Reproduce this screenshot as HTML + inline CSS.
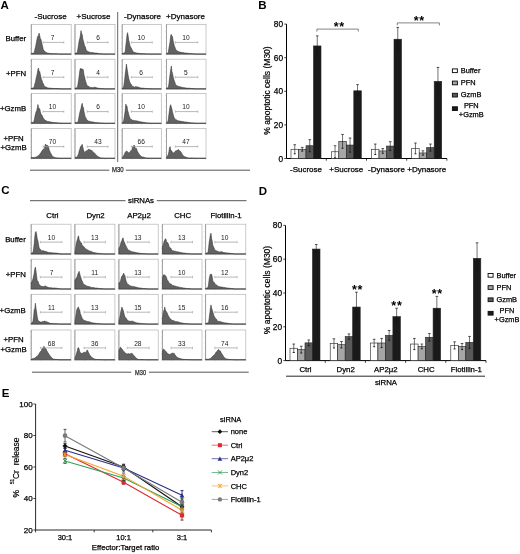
<!DOCTYPE html>
<html><head><meta charset="utf-8"><style>html,body{margin:0;padding:0;background:#fff;width:520px;height:554px;overflow:hidden;font-family:"Liberation Sans", sans-serif;}svg{display:block;filter:blur(0.35px)}</style></head><body>
<svg width="520" height="554" viewBox="0 0 520 554" font-family='"Liberation Sans", sans-serif'>
<rect width="520" height="554" fill="#fff"/>
<text x="0.50" y="9.00" font-size="11.5" text-anchor="start" font-weight="bold" fill="#000" >A</text>
<text x="50.60" y="18.80" font-size="8" text-anchor="middle" font-weight="normal" fill="#000" stroke="#000" stroke-width="0.25" >-Sucrose</text>
<text x="93.50" y="18.80" font-size="8" text-anchor="middle" font-weight="normal" fill="#000" stroke="#000" stroke-width="0.25" >+Sucrose</text>
<text x="142.50" y="18.80" font-size="8" text-anchor="middle" font-weight="normal" fill="#000" stroke="#000" stroke-width="0.25" >-Dynasore</text>
<text x="185.50" y="18.80" font-size="8" text-anchor="middle" font-weight="normal" fill="#000" stroke="#000" stroke-width="0.25" >+Dynasore</text>
<text x="26.20" y="40.90" font-size="7.8" text-anchor="end" font-weight="normal" fill="#000" stroke="#000" stroke-width="0.25" >Buffer</text>
<text x="26.20" y="76.30" font-size="7.8" text-anchor="end" font-weight="normal" fill="#000" stroke="#000" stroke-width="0.25" >+PFN</text>
<text x="26.20" y="111.10" font-size="7.8" text-anchor="end" font-weight="normal" fill="#000" stroke="#000" stroke-width="0.25" >+GzmB</text>
<text x="13.60" y="140.60" font-size="7.8" text-anchor="middle" font-weight="normal" fill="#000" stroke="#000" stroke-width="0.25" >+PFN</text>
<text x="13.60" y="149.70" font-size="7.8" text-anchor="middle" font-weight="normal" fill="#000" stroke="#000" stroke-width="0.25" >+GzmB</text>
<rect x="31.30" y="24.40" width="39.90" height="29.70" fill="#fff" stroke="#b4b4b4" stroke-width="0.7" />
<line x1="31.30" y1="24.40" x2="31.30" y2="54.10" stroke="#8a8a8a" stroke-width="0.7" />
<line x1="31.30" y1="54.10" x2="71.20" y2="54.10" stroke="#8a8a8a" stroke-width="0.7" />
<line x1="30.00" y1="54.10" x2="31.30" y2="54.10" stroke="#bbb" stroke-width="0.5" />
<line x1="30.00" y1="48.50" x2="31.30" y2="48.50" stroke="#bbb" stroke-width="0.5" />
<line x1="30.00" y1="42.89" x2="31.30" y2="42.89" stroke="#bbb" stroke-width="0.5" />
<line x1="30.00" y1="37.29" x2="31.30" y2="37.29" stroke="#bbb" stroke-width="0.5" />
<line x1="30.00" y1="31.68" x2="31.30" y2="31.68" stroke="#bbb" stroke-width="0.5" />
<line x1="30.00" y1="26.08" x2="31.30" y2="26.08" stroke="#bbb" stroke-width="0.5" />
<line x1="31.30" y1="54.10" x2="31.30" y2="55.40" stroke="#bbb" stroke-width="0.5" />
<line x1="41.27" y1="54.10" x2="41.27" y2="55.40" stroke="#bbb" stroke-width="0.5" />
<line x1="51.25" y1="54.10" x2="51.25" y2="55.40" stroke="#bbb" stroke-width="0.5" />
<line x1="61.22" y1="54.10" x2="61.22" y2="55.40" stroke="#bbb" stroke-width="0.5" />
<line x1="71.20" y1="54.10" x2="71.20" y2="55.40" stroke="#bbb" stroke-width="0.5" />
<path d="M31.3,54.1L31.3,53.5L31.9,53.4L32.5,53.3L33.1,53.2L33.7,53.0L34.3,52.5L34.9,49.3L35.5,46.9L36.1,43.9L36.7,41.0L37.3,37.5L37.9,36.0L38.5,35.4L39.1,33.1L39.7,35.5L40.3,38.4L40.9,39.2L41.5,41.6L42.1,44.4L42.7,46.8L43.3,49.8L43.9,50.3L44.5,51.1L45.1,51.8L45.7,52.2L46.3,52.5L46.9,52.7L47.5,53.0L48.1,53.1L48.7,53.3L49.3,53.5L49.9,53.5L50.5,53.6L51.1,53.6L51.7,53.6L52.3,53.7L52.9,53.7L53.5,53.7L54.1,53.7L54.7,53.7L55.3,53.8L55.9,53.8L56.5,53.8L57.1,53.9L57.7,53.9L58.3,53.9L58.9,54.0L59.5,54.0L60.1,54.0L60.7,54.1L61.3,54.1L61.9,54.1L62.5,54.1L63.1,54.1L63.7,54.1L64.3,54.1L64.9,54.1L65.5,54.1L66.1,54.1L66.7,54.1L67.3,54.1L67.9,54.1L68.5,54.1L69.1,54.1L69.7,54.1L70.3,54.1L70.9,54.1L71.2,54.1Z" fill="#626262" stroke="#2a2a2a" stroke-width="0.5" stroke-linejoin="round"/>
<line x1="43.10" y1="42.40" x2="63.80" y2="42.40" stroke="#a0a0a0" stroke-width="0.75" />
<line x1="43.10" y1="41.20" x2="43.10" y2="43.60" stroke="#a0a0a0" stroke-width="0.6" />
<line x1="63.80" y1="41.20" x2="63.80" y2="43.60" stroke="#a0a0a0" stroke-width="0.6" />
<text x="52.50" y="40.00" font-size="6.6" text-anchor="middle" font-weight="normal " fill="#1a1a1a" >7</text>
<rect x="75.00" y="24.40" width="40.00" height="29.70" fill="#fff" stroke="#b4b4b4" stroke-width="0.7" />
<line x1="75.00" y1="24.40" x2="75.00" y2="54.10" stroke="#8a8a8a" stroke-width="0.7" />
<line x1="75.00" y1="54.10" x2="115.00" y2="54.10" stroke="#8a8a8a" stroke-width="0.7" />
<line x1="73.70" y1="54.10" x2="75.00" y2="54.10" stroke="#bbb" stroke-width="0.5" />
<line x1="73.70" y1="48.50" x2="75.00" y2="48.50" stroke="#bbb" stroke-width="0.5" />
<line x1="73.70" y1="42.89" x2="75.00" y2="42.89" stroke="#bbb" stroke-width="0.5" />
<line x1="73.70" y1="37.29" x2="75.00" y2="37.29" stroke="#bbb" stroke-width="0.5" />
<line x1="73.70" y1="31.68" x2="75.00" y2="31.68" stroke="#bbb" stroke-width="0.5" />
<line x1="73.70" y1="26.08" x2="75.00" y2="26.08" stroke="#bbb" stroke-width="0.5" />
<line x1="75.00" y1="54.10" x2="75.00" y2="55.40" stroke="#bbb" stroke-width="0.5" />
<line x1="85.00" y1="54.10" x2="85.00" y2="55.40" stroke="#bbb" stroke-width="0.5" />
<line x1="95.00" y1="54.10" x2="95.00" y2="55.40" stroke="#bbb" stroke-width="0.5" />
<line x1="105.00" y1="54.10" x2="105.00" y2="55.40" stroke="#bbb" stroke-width="0.5" />
<line x1="115.00" y1="54.10" x2="115.00" y2="55.40" stroke="#bbb" stroke-width="0.5" />
<path d="M75.0,54.1L75.0,53.5L75.6,53.3L76.2,53.1L76.8,53.1L77.4,51.7L78.0,48.2L78.6,44.4L79.2,40.4L79.8,38.5L80.4,35.4L81.0,30.6L81.6,33.4L82.2,34.5L82.8,39.1L83.4,40.9L84.0,43.3L84.6,45.8L85.2,46.6L85.8,48.5L86.4,50.8L87.0,51.1L87.6,51.2L88.2,51.4L88.8,51.9L89.4,52.2L90.0,52.2L90.6,52.4L91.2,52.4L91.8,52.5L92.4,52.5L93.0,52.7L93.6,52.8L94.2,52.9L94.8,52.9L95.4,53.0L96.0,53.1L96.6,53.1L97.2,53.2L97.8,53.3L98.4,53.5L99.0,53.5L99.6,53.6L100.2,53.7L100.8,53.8L101.4,53.8L102.0,53.9L102.6,53.9L103.2,54.0L103.8,54.0L104.4,54.1L105.0,54.1L105.6,54.1L106.2,54.1L106.8,54.1L107.4,54.1L108.0,54.1L108.6,54.1L109.2,54.1L109.8,54.1L110.4,54.1L111.0,54.1L111.6,54.1L112.2,54.1L112.8,54.1L113.4,54.1L114.0,54.1L114.6,54.1L115.0,54.1Z" fill="#626262" stroke="#2a2a2a" stroke-width="0.5" stroke-linejoin="round"/>
<line x1="87.20" y1="42.40" x2="108.00" y2="42.40" stroke="#a0a0a0" stroke-width="0.75" />
<line x1="87.20" y1="41.20" x2="87.20" y2="43.60" stroke="#a0a0a0" stroke-width="0.6" />
<line x1="108.00" y1="41.20" x2="108.00" y2="43.60" stroke="#a0a0a0" stroke-width="0.6" />
<text x="98.00" y="40.00" font-size="6.6" text-anchor="middle" font-weight="normal " fill="#1a1a1a" >6</text>
<rect x="122.20" y="24.40" width="39.10" height="29.70" fill="#fff" stroke="#b4b4b4" stroke-width="0.7" />
<line x1="122.20" y1="24.40" x2="122.20" y2="54.10" stroke="#8a8a8a" stroke-width="0.7" />
<line x1="122.20" y1="54.10" x2="161.30" y2="54.10" stroke="#8a8a8a" stroke-width="0.7" />
<line x1="120.90" y1="54.10" x2="122.20" y2="54.10" stroke="#bbb" stroke-width="0.5" />
<line x1="120.90" y1="48.50" x2="122.20" y2="48.50" stroke="#bbb" stroke-width="0.5" />
<line x1="120.90" y1="42.89" x2="122.20" y2="42.89" stroke="#bbb" stroke-width="0.5" />
<line x1="120.90" y1="37.29" x2="122.20" y2="37.29" stroke="#bbb" stroke-width="0.5" />
<line x1="120.90" y1="31.68" x2="122.20" y2="31.68" stroke="#bbb" stroke-width="0.5" />
<line x1="120.90" y1="26.08" x2="122.20" y2="26.08" stroke="#bbb" stroke-width="0.5" />
<line x1="122.20" y1="54.10" x2="122.20" y2="55.40" stroke="#bbb" stroke-width="0.5" />
<line x1="131.97" y1="54.10" x2="131.97" y2="55.40" stroke="#bbb" stroke-width="0.5" />
<line x1="141.75" y1="54.10" x2="141.75" y2="55.40" stroke="#bbb" stroke-width="0.5" />
<line x1="151.53" y1="54.10" x2="151.53" y2="55.40" stroke="#bbb" stroke-width="0.5" />
<line x1="161.30" y1="54.10" x2="161.30" y2="55.40" stroke="#bbb" stroke-width="0.5" />
<path d="M122.2,54.1L122.2,53.5L122.8,53.3L123.4,53.2L124.0,53.0L124.6,52.7L125.2,51.6L125.8,45.8L126.4,40.9L127.0,35.0L127.6,32.6L128.2,36.2L128.8,40.5L129.4,42.8L130.0,45.8L130.6,47.1L131.2,47.9L131.8,49.0L132.4,50.4L133.0,51.4L133.6,52.0L134.2,52.3L134.8,52.5L135.4,52.6L136.0,52.9L136.6,53.0L137.2,53.0L137.8,53.2L138.4,53.3L139.0,53.5L139.6,53.6L140.2,53.6L140.8,53.6L141.4,53.6L142.0,53.7L142.6,53.7L143.2,53.7L143.8,53.8L144.4,53.8L145.0,53.8L145.6,53.9L146.2,53.9L146.8,53.9L147.4,53.9L148.0,53.9L148.6,54.0L149.2,54.0L149.8,54.0L150.4,54.0L151.0,54.1L151.6,54.1L152.2,54.1L152.8,54.1L153.4,54.1L154.0,54.1L154.6,54.1L155.2,54.1L155.8,54.1L156.4,54.1L157.0,54.1L157.6,54.1L158.2,54.1L158.8,54.1L159.4,54.1L160.0,54.1L160.6,54.1L161.2,54.1L161.3,54.1Z" fill="#626262" stroke="#2a2a2a" stroke-width="0.5" stroke-linejoin="round"/>
<line x1="131.40" y1="42.40" x2="152.30" y2="42.40" stroke="#a0a0a0" stroke-width="0.75" />
<line x1="131.40" y1="41.20" x2="131.40" y2="43.60" stroke="#a0a0a0" stroke-width="0.6" />
<line x1="152.30" y1="41.20" x2="152.30" y2="43.60" stroke="#a0a0a0" stroke-width="0.6" />
<text x="141.20" y="40.00" font-size="6.6" text-anchor="middle" font-weight="normal " fill="#1a1a1a" >10</text>
<rect x="166.50" y="24.40" width="39.50" height="29.70" fill="#fff" stroke="#b4b4b4" stroke-width="0.7" />
<line x1="166.50" y1="24.40" x2="166.50" y2="54.10" stroke="#8a8a8a" stroke-width="0.7" />
<line x1="166.50" y1="54.10" x2="206.00" y2="54.10" stroke="#8a8a8a" stroke-width="0.7" />
<line x1="165.20" y1="54.10" x2="166.50" y2="54.10" stroke="#bbb" stroke-width="0.5" />
<line x1="165.20" y1="48.50" x2="166.50" y2="48.50" stroke="#bbb" stroke-width="0.5" />
<line x1="165.20" y1="42.89" x2="166.50" y2="42.89" stroke="#bbb" stroke-width="0.5" />
<line x1="165.20" y1="37.29" x2="166.50" y2="37.29" stroke="#bbb" stroke-width="0.5" />
<line x1="165.20" y1="31.68" x2="166.50" y2="31.68" stroke="#bbb" stroke-width="0.5" />
<line x1="165.20" y1="26.08" x2="166.50" y2="26.08" stroke="#bbb" stroke-width="0.5" />
<line x1="166.50" y1="54.10" x2="166.50" y2="55.40" stroke="#bbb" stroke-width="0.5" />
<line x1="176.38" y1="54.10" x2="176.38" y2="55.40" stroke="#bbb" stroke-width="0.5" />
<line x1="186.25" y1="54.10" x2="186.25" y2="55.40" stroke="#bbb" stroke-width="0.5" />
<line x1="196.12" y1="54.10" x2="196.12" y2="55.40" stroke="#bbb" stroke-width="0.5" />
<line x1="206.00" y1="54.10" x2="206.00" y2="55.40" stroke="#bbb" stroke-width="0.5" />
<path d="M166.5,54.1L166.5,53.5L167.1,53.2L167.7,52.9L168.3,52.6L168.9,48.3L169.5,45.0L170.1,41.4L170.7,35.5L171.3,34.4L171.9,36.5L172.5,36.5L173.1,40.8L173.7,43.1L174.3,45.9L174.9,47.1L175.5,49.0L176.1,50.0L176.7,50.5L177.3,51.0L177.9,51.2L178.5,51.5L179.1,52.0L179.7,52.0L180.3,52.1L180.9,52.3L181.5,52.5L182.1,52.4L182.7,52.6L183.3,52.6L183.9,52.7L184.5,52.9L185.1,52.9L185.7,53.1L186.3,53.1L186.9,53.2L187.5,53.2L188.1,53.2L188.7,53.4L189.3,53.5L189.9,53.5L190.5,53.5L191.1,53.6L191.7,53.7L192.3,53.7L192.9,53.8L193.5,53.8L194.1,53.9L194.7,53.9L195.3,54.0L195.9,54.0L196.5,54.1L197.1,54.1L197.7,54.1L198.3,54.1L198.9,54.1L199.5,54.1L200.1,54.1L200.7,54.1L201.3,54.1L201.9,54.1L202.5,54.1L203.1,54.1L203.7,54.1L204.3,54.1L204.9,54.1L205.5,54.1L206.0,54.1Z" fill="#626262" stroke="#2a2a2a" stroke-width="0.5" stroke-linejoin="round"/>
<line x1="175.40" y1="42.40" x2="197.80" y2="42.40" stroke="#a0a0a0" stroke-width="0.75" />
<line x1="175.40" y1="41.20" x2="175.40" y2="43.60" stroke="#a0a0a0" stroke-width="0.6" />
<line x1="197.80" y1="41.20" x2="197.80" y2="43.60" stroke="#a0a0a0" stroke-width="0.6" />
<text x="185.90" y="40.00" font-size="6.6" text-anchor="middle" font-weight="normal " fill="#1a1a1a" >10</text>
<rect x="31.30" y="59.20" width="39.90" height="29.70" fill="#fff" stroke="#b4b4b4" stroke-width="0.7" />
<line x1="31.30" y1="59.20" x2="31.30" y2="88.90" stroke="#8a8a8a" stroke-width="0.7" />
<line x1="31.30" y1="88.90" x2="71.20" y2="88.90" stroke="#8a8a8a" stroke-width="0.7" />
<line x1="30.00" y1="88.90" x2="31.30" y2="88.90" stroke="#bbb" stroke-width="0.5" />
<line x1="30.00" y1="83.30" x2="31.30" y2="83.30" stroke="#bbb" stroke-width="0.5" />
<line x1="30.00" y1="77.69" x2="31.30" y2="77.69" stroke="#bbb" stroke-width="0.5" />
<line x1="30.00" y1="72.09" x2="31.30" y2="72.09" stroke="#bbb" stroke-width="0.5" />
<line x1="30.00" y1="66.48" x2="31.30" y2="66.48" stroke="#bbb" stroke-width="0.5" />
<line x1="30.00" y1="60.88" x2="31.30" y2="60.88" stroke="#bbb" stroke-width="0.5" />
<line x1="31.30" y1="88.90" x2="31.30" y2="90.20" stroke="#bbb" stroke-width="0.5" />
<line x1="41.27" y1="88.90" x2="41.27" y2="90.20" stroke="#bbb" stroke-width="0.5" />
<line x1="51.25" y1="88.90" x2="51.25" y2="90.20" stroke="#bbb" stroke-width="0.5" />
<line x1="61.22" y1="88.90" x2="61.22" y2="90.20" stroke="#bbb" stroke-width="0.5" />
<line x1="71.20" y1="88.90" x2="71.20" y2="90.20" stroke="#bbb" stroke-width="0.5" />
<path d="M31.3,88.9L31.3,88.3L31.9,88.2L32.5,88.0L33.1,88.0L33.7,87.7L34.3,86.3L34.9,83.7L35.5,81.7L36.1,78.5L36.7,75.9L37.3,73.2L37.9,69.5L38.5,68.0L39.1,72.2L39.7,71.4L40.3,74.3L40.9,77.1L41.5,79.4L42.1,80.7L42.7,82.7L43.3,83.8L43.9,85.0L44.5,86.5L45.1,86.7L45.7,86.9L46.3,87.1L46.9,87.5L47.5,87.8L48.1,87.9L48.7,88.0L49.3,87.9L49.9,88.1L50.5,88.2L51.1,88.2L51.7,88.3L52.3,88.4L52.9,88.4L53.5,88.4L54.1,88.4L54.7,88.5L55.3,88.5L55.9,88.5L56.5,88.6L57.1,88.6L57.7,88.6L58.3,88.7L58.9,88.7L59.5,88.8L60.1,88.8L60.7,88.9L61.3,88.9L61.9,88.9L62.5,88.9L63.1,88.9L63.7,88.9L64.3,88.9L64.9,88.9L65.5,88.9L66.1,88.9L66.7,88.9L67.3,88.9L67.9,88.9L68.5,88.9L69.1,88.9L69.7,88.9L70.3,88.9L70.9,88.9L71.2,88.9Z" fill="#626262" stroke="#2a2a2a" stroke-width="0.5" stroke-linejoin="round"/>
<line x1="43.10" y1="77.20" x2="63.80" y2="77.20" stroke="#a0a0a0" stroke-width="0.75" />
<line x1="43.10" y1="76.00" x2="43.10" y2="78.40" stroke="#a0a0a0" stroke-width="0.6" />
<line x1="63.80" y1="76.00" x2="63.80" y2="78.40" stroke="#a0a0a0" stroke-width="0.6" />
<text x="52.50" y="74.80" font-size="6.6" text-anchor="middle" font-weight="normal " fill="#1a1a1a" >7</text>
<rect x="75.00" y="59.20" width="40.00" height="29.70" fill="#fff" stroke="#b4b4b4" stroke-width="0.7" />
<line x1="75.00" y1="59.20" x2="75.00" y2="88.90" stroke="#8a8a8a" stroke-width="0.7" />
<line x1="75.00" y1="88.90" x2="115.00" y2="88.90" stroke="#8a8a8a" stroke-width="0.7" />
<line x1="73.70" y1="88.90" x2="75.00" y2="88.90" stroke="#bbb" stroke-width="0.5" />
<line x1="73.70" y1="83.30" x2="75.00" y2="83.30" stroke="#bbb" stroke-width="0.5" />
<line x1="73.70" y1="77.69" x2="75.00" y2="77.69" stroke="#bbb" stroke-width="0.5" />
<line x1="73.70" y1="72.09" x2="75.00" y2="72.09" stroke="#bbb" stroke-width="0.5" />
<line x1="73.70" y1="66.48" x2="75.00" y2="66.48" stroke="#bbb" stroke-width="0.5" />
<line x1="73.70" y1="60.88" x2="75.00" y2="60.88" stroke="#bbb" stroke-width="0.5" />
<line x1="75.00" y1="88.90" x2="75.00" y2="90.20" stroke="#bbb" stroke-width="0.5" />
<line x1="85.00" y1="88.90" x2="85.00" y2="90.20" stroke="#bbb" stroke-width="0.5" />
<line x1="95.00" y1="88.90" x2="95.00" y2="90.20" stroke="#bbb" stroke-width="0.5" />
<line x1="105.00" y1="88.90" x2="105.00" y2="90.20" stroke="#bbb" stroke-width="0.5" />
<line x1="115.00" y1="88.90" x2="115.00" y2="90.20" stroke="#bbb" stroke-width="0.5" />
<path d="M75.0,88.9L75.0,88.3L75.6,88.1L76.2,87.8L76.8,87.7L77.4,87.4L78.0,83.9L78.6,80.3L79.2,75.5L79.8,70.7L80.4,68.3L81.0,69.9L81.6,68.6L82.2,70.0L82.8,68.9L83.4,70.3L84.0,75.1L84.6,76.7L85.2,79.9L85.8,82.0L86.4,83.6L87.0,85.5L87.6,85.9L88.2,86.0L88.8,86.6L89.4,86.9L90.0,87.2L90.6,87.4L91.2,87.4L91.8,87.5L92.4,87.5L93.0,87.7L93.6,87.5L94.2,87.4L94.8,87.1L95.4,87.3L96.0,87.6L96.6,87.7L97.2,88.0L97.8,88.1L98.4,88.2L99.0,88.3L99.6,88.4L100.2,88.5L100.8,88.6L101.4,88.6L102.0,88.7L102.6,88.7L103.2,88.8L103.8,88.8L104.4,88.9L105.0,88.9L105.6,88.9L106.2,88.9L106.8,88.9L107.4,88.9L108.0,88.9L108.6,88.9L109.2,88.9L109.8,88.9L110.4,88.9L111.0,88.9L111.6,88.9L112.2,88.9L112.8,88.9L113.4,88.9L114.0,88.9L114.6,88.9L115.0,88.9Z" fill="#626262" stroke="#2a2a2a" stroke-width="0.5" stroke-linejoin="round"/>
<line x1="87.20" y1="77.20" x2="108.00" y2="77.20" stroke="#a0a0a0" stroke-width="0.75" />
<line x1="87.20" y1="76.00" x2="87.20" y2="78.40" stroke="#a0a0a0" stroke-width="0.6" />
<line x1="108.00" y1="76.00" x2="108.00" y2="78.40" stroke="#a0a0a0" stroke-width="0.6" />
<text x="98.00" y="74.80" font-size="6.6" text-anchor="middle" font-weight="normal " fill="#1a1a1a" >4</text>
<rect x="122.20" y="59.20" width="39.10" height="29.70" fill="#fff" stroke="#b4b4b4" stroke-width="0.7" />
<line x1="122.20" y1="59.20" x2="122.20" y2="88.90" stroke="#8a8a8a" stroke-width="0.7" />
<line x1="122.20" y1="88.90" x2="161.30" y2="88.90" stroke="#8a8a8a" stroke-width="0.7" />
<line x1="120.90" y1="88.90" x2="122.20" y2="88.90" stroke="#bbb" stroke-width="0.5" />
<line x1="120.90" y1="83.30" x2="122.20" y2="83.30" stroke="#bbb" stroke-width="0.5" />
<line x1="120.90" y1="77.69" x2="122.20" y2="77.69" stroke="#bbb" stroke-width="0.5" />
<line x1="120.90" y1="72.09" x2="122.20" y2="72.09" stroke="#bbb" stroke-width="0.5" />
<line x1="120.90" y1="66.48" x2="122.20" y2="66.48" stroke="#bbb" stroke-width="0.5" />
<line x1="120.90" y1="60.88" x2="122.20" y2="60.88" stroke="#bbb" stroke-width="0.5" />
<line x1="122.20" y1="88.90" x2="122.20" y2="90.20" stroke="#bbb" stroke-width="0.5" />
<line x1="131.97" y1="88.90" x2="131.97" y2="90.20" stroke="#bbb" stroke-width="0.5" />
<line x1="141.75" y1="88.90" x2="141.75" y2="90.20" stroke="#bbb" stroke-width="0.5" />
<line x1="151.53" y1="88.90" x2="151.53" y2="90.20" stroke="#bbb" stroke-width="0.5" />
<line x1="161.30" y1="88.90" x2="161.30" y2="90.20" stroke="#bbb" stroke-width="0.5" />
<path d="M122.2,88.9L122.2,88.3L122.8,87.9L123.4,87.6L124.0,85.0L124.6,80.1L125.2,74.3L125.8,69.6L126.4,64.0L127.0,68.1L127.6,72.0L128.2,75.5L128.8,78.5L129.4,81.1L130.0,82.4L130.6,83.8L131.2,84.2L131.8,85.6L132.4,85.9L133.0,86.6L133.6,86.7L134.2,87.2L134.8,87.0L135.4,86.6L136.0,86.8L136.6,86.8L137.2,86.7L137.8,87.0L138.4,87.3L139.0,87.2L139.6,87.4L140.2,87.8L140.8,87.9L141.4,88.1L142.0,88.1L142.6,88.1L143.2,88.2L143.8,88.2L144.4,88.4L145.0,88.4L145.6,88.4L146.2,88.5L146.8,88.6L147.4,88.6L148.0,88.7L148.6,88.7L149.2,88.7L149.8,88.8L150.4,88.8L151.0,88.8L151.6,88.9L152.2,88.9L152.8,88.9L153.4,88.9L154.0,88.9L154.6,88.9L155.2,88.9L155.8,88.9L156.4,88.9L157.0,88.9L157.6,88.9L158.2,88.9L158.8,88.9L159.4,88.9L160.0,88.9L160.6,88.9L161.2,88.9L161.3,88.9Z" fill="#626262" stroke="#2a2a2a" stroke-width="0.5" stroke-linejoin="round"/>
<line x1="131.40" y1="77.20" x2="152.30" y2="77.20" stroke="#a0a0a0" stroke-width="0.75" />
<line x1="131.40" y1="76.00" x2="131.40" y2="78.40" stroke="#a0a0a0" stroke-width="0.6" />
<line x1="152.30" y1="76.00" x2="152.30" y2="78.40" stroke="#a0a0a0" stroke-width="0.6" />
<text x="141.20" y="74.80" font-size="6.6" text-anchor="middle" font-weight="normal " fill="#1a1a1a" >6</text>
<rect x="166.50" y="59.20" width="39.50" height="29.70" fill="#fff" stroke="#b4b4b4" stroke-width="0.7" />
<line x1="166.50" y1="59.20" x2="166.50" y2="88.90" stroke="#8a8a8a" stroke-width="0.7" />
<line x1="166.50" y1="88.90" x2="206.00" y2="88.90" stroke="#8a8a8a" stroke-width="0.7" />
<line x1="165.20" y1="88.90" x2="166.50" y2="88.90" stroke="#bbb" stroke-width="0.5" />
<line x1="165.20" y1="83.30" x2="166.50" y2="83.30" stroke="#bbb" stroke-width="0.5" />
<line x1="165.20" y1="77.69" x2="166.50" y2="77.69" stroke="#bbb" stroke-width="0.5" />
<line x1="165.20" y1="72.09" x2="166.50" y2="72.09" stroke="#bbb" stroke-width="0.5" />
<line x1="165.20" y1="66.48" x2="166.50" y2="66.48" stroke="#bbb" stroke-width="0.5" />
<line x1="165.20" y1="60.88" x2="166.50" y2="60.88" stroke="#bbb" stroke-width="0.5" />
<line x1="166.50" y1="88.90" x2="166.50" y2="90.20" stroke="#bbb" stroke-width="0.5" />
<line x1="176.38" y1="88.90" x2="176.38" y2="90.20" stroke="#bbb" stroke-width="0.5" />
<line x1="186.25" y1="88.90" x2="186.25" y2="90.20" stroke="#bbb" stroke-width="0.5" />
<line x1="196.12" y1="88.90" x2="196.12" y2="90.20" stroke="#bbb" stroke-width="0.5" />
<line x1="206.00" y1="88.90" x2="206.00" y2="90.20" stroke="#bbb" stroke-width="0.5" />
<path d="M166.5,88.9L166.5,88.3L167.1,88.0L167.7,87.7L168.3,87.4L168.9,84.0L169.5,78.7L170.1,74.2L170.7,69.6L171.3,66.0L171.9,71.4L172.5,73.4L173.1,76.6L173.7,79.0L174.3,81.0L174.9,82.3L175.5,84.4L176.1,85.2L176.7,85.4L177.3,85.9L177.9,85.9L178.5,86.4L179.1,86.5L179.7,86.7L180.3,86.8L180.9,86.9L181.5,87.1L182.1,87.4L182.7,87.4L183.3,87.5L183.9,87.6L184.5,87.7L185.1,87.8L185.7,87.9L186.3,88.0L186.9,88.1L187.5,88.2L188.1,88.1L188.7,88.2L189.3,88.2L189.9,88.3L190.5,88.4L191.1,88.5L191.7,88.5L192.3,88.6L192.9,88.6L193.5,88.7L194.1,88.7L194.7,88.8L195.3,88.8L195.9,88.9L196.5,88.9L197.1,88.9L197.7,88.9L198.3,88.9L198.9,88.9L199.5,88.9L200.1,88.9L200.7,88.9L201.3,88.9L201.9,88.9L202.5,88.9L203.1,88.9L203.7,88.9L204.3,88.9L204.9,88.9L205.5,88.9L206.0,88.9Z" fill="#626262" stroke="#2a2a2a" stroke-width="0.5" stroke-linejoin="round"/>
<line x1="175.40" y1="77.20" x2="197.80" y2="77.20" stroke="#a0a0a0" stroke-width="0.75" />
<line x1="175.40" y1="76.00" x2="175.40" y2="78.40" stroke="#a0a0a0" stroke-width="0.6" />
<line x1="197.80" y1="76.00" x2="197.80" y2="78.40" stroke="#a0a0a0" stroke-width="0.6" />
<text x="185.90" y="74.80" font-size="6.6" text-anchor="middle" font-weight="normal " fill="#1a1a1a" >5</text>
<rect x="31.30" y="93.60" width="39.90" height="29.70" fill="#fff" stroke="#b4b4b4" stroke-width="0.7" />
<line x1="31.30" y1="93.60" x2="31.30" y2="123.30" stroke="#8a8a8a" stroke-width="0.7" />
<line x1="31.30" y1="123.30" x2="71.20" y2="123.30" stroke="#8a8a8a" stroke-width="0.7" />
<line x1="30.00" y1="123.30" x2="31.30" y2="123.30" stroke="#bbb" stroke-width="0.5" />
<line x1="30.00" y1="117.70" x2="31.30" y2="117.70" stroke="#bbb" stroke-width="0.5" />
<line x1="30.00" y1="112.09" x2="31.30" y2="112.09" stroke="#bbb" stroke-width="0.5" />
<line x1="30.00" y1="106.49" x2="31.30" y2="106.49" stroke="#bbb" stroke-width="0.5" />
<line x1="30.00" y1="100.88" x2="31.30" y2="100.88" stroke="#bbb" stroke-width="0.5" />
<line x1="30.00" y1="95.28" x2="31.30" y2="95.28" stroke="#bbb" stroke-width="0.5" />
<line x1="31.30" y1="123.30" x2="31.30" y2="124.60" stroke="#bbb" stroke-width="0.5" />
<line x1="41.27" y1="123.30" x2="41.27" y2="124.60" stroke="#bbb" stroke-width="0.5" />
<line x1="51.25" y1="123.30" x2="51.25" y2="124.60" stroke="#bbb" stroke-width="0.5" />
<line x1="61.22" y1="123.30" x2="61.22" y2="124.60" stroke="#bbb" stroke-width="0.5" />
<line x1="71.20" y1="123.30" x2="71.20" y2="124.60" stroke="#bbb" stroke-width="0.5" />
<path d="M31.3,123.3L31.3,122.7L31.9,122.5L32.5,122.4L33.1,122.2L33.7,122.2L34.3,119.7L34.9,116.6L35.5,113.7L36.1,111.8L36.7,110.6L37.3,108.1L37.9,104.5L38.5,107.4L39.1,108.4L39.7,108.7L40.3,111.5L40.9,113.7L41.5,115.0L42.1,115.3L42.7,117.1L43.3,118.0L43.9,118.9L44.5,119.7L45.1,120.1L45.7,120.6L46.3,120.7L46.9,121.2L47.5,121.4L48.1,121.5L48.7,121.4L49.3,121.7L49.9,121.7L50.5,121.9L51.1,122.1L51.7,122.2L52.3,122.2L52.9,122.3L53.5,122.5L54.1,122.5L54.7,122.6L55.3,122.6L55.9,122.7L56.5,122.8L57.1,122.8L57.7,122.8L58.3,122.9L58.9,123.0L59.5,123.0L60.1,123.1L60.7,123.1L61.3,123.2L61.9,123.2L62.5,123.2L63.1,123.3L63.7,123.3L64.3,123.3L64.9,123.3L65.5,123.3L66.1,123.3L66.7,123.3L67.3,123.3L67.9,123.3L68.5,123.3L69.1,123.3L69.7,123.3L70.3,123.3L70.9,123.3L71.2,123.3Z" fill="#626262" stroke="#2a2a2a" stroke-width="0.5" stroke-linejoin="round"/>
<line x1="43.10" y1="111.60" x2="63.80" y2="111.60" stroke="#a0a0a0" stroke-width="0.75" />
<line x1="43.10" y1="110.40" x2="43.10" y2="112.80" stroke="#a0a0a0" stroke-width="0.6" />
<line x1="63.80" y1="110.40" x2="63.80" y2="112.80" stroke="#a0a0a0" stroke-width="0.6" />
<text x="52.50" y="109.20" font-size="6.6" text-anchor="middle" font-weight="normal " fill="#1a1a1a" >10</text>
<rect x="75.00" y="93.60" width="40.00" height="29.70" fill="#fff" stroke="#b4b4b4" stroke-width="0.7" />
<line x1="75.00" y1="93.60" x2="75.00" y2="123.30" stroke="#8a8a8a" stroke-width="0.7" />
<line x1="75.00" y1="123.30" x2="115.00" y2="123.30" stroke="#8a8a8a" stroke-width="0.7" />
<line x1="73.70" y1="123.30" x2="75.00" y2="123.30" stroke="#bbb" stroke-width="0.5" />
<line x1="73.70" y1="117.70" x2="75.00" y2="117.70" stroke="#bbb" stroke-width="0.5" />
<line x1="73.70" y1="112.09" x2="75.00" y2="112.09" stroke="#bbb" stroke-width="0.5" />
<line x1="73.70" y1="106.49" x2="75.00" y2="106.49" stroke="#bbb" stroke-width="0.5" />
<line x1="73.70" y1="100.88" x2="75.00" y2="100.88" stroke="#bbb" stroke-width="0.5" />
<line x1="73.70" y1="95.28" x2="75.00" y2="95.28" stroke="#bbb" stroke-width="0.5" />
<line x1="75.00" y1="123.30" x2="75.00" y2="124.60" stroke="#bbb" stroke-width="0.5" />
<line x1="85.00" y1="123.30" x2="85.00" y2="124.60" stroke="#bbb" stroke-width="0.5" />
<line x1="95.00" y1="123.30" x2="95.00" y2="124.60" stroke="#bbb" stroke-width="0.5" />
<line x1="105.00" y1="123.30" x2="105.00" y2="124.60" stroke="#bbb" stroke-width="0.5" />
<line x1="115.00" y1="123.30" x2="115.00" y2="124.60" stroke="#bbb" stroke-width="0.5" />
<path d="M75.0,123.3L75.0,122.7L75.6,122.6L76.2,122.5L76.8,122.4L77.4,122.3L78.0,122.1L78.6,118.7L79.2,115.7L79.8,112.5L80.4,110.3L81.0,108.4L81.6,104.9L82.2,103.3L82.8,107.0L83.4,107.4L84.0,111.5L84.6,114.3L85.2,116.9L85.8,117.5L86.4,119.3L87.0,119.8L87.6,120.3L88.2,120.9L88.8,121.2L89.4,121.3L90.0,121.5L90.6,121.4L91.2,121.7L91.8,121.9L92.4,121.8L93.0,122.1L93.6,122.1L94.2,122.3L94.8,122.4L95.4,122.5L96.0,122.5L96.6,122.6L97.2,122.7L97.8,122.7L98.4,122.8L99.0,122.8L99.6,122.9L100.2,122.9L100.8,123.0L101.4,123.0L102.0,123.1L102.6,123.1L103.2,123.2L103.8,123.2L104.4,123.3L105.0,123.3L105.6,123.3L106.2,123.3L106.8,123.3L107.4,123.3L108.0,123.3L108.6,123.3L109.2,123.3L109.8,123.3L110.4,123.3L111.0,123.3L111.6,123.3L112.2,123.3L112.8,123.3L113.4,123.3L114.0,123.3L114.6,123.3L115.0,123.3Z" fill="#626262" stroke="#2a2a2a" stroke-width="0.5" stroke-linejoin="round"/>
<line x1="87.20" y1="111.60" x2="108.00" y2="111.60" stroke="#a0a0a0" stroke-width="0.75" />
<line x1="87.20" y1="110.40" x2="87.20" y2="112.80" stroke="#a0a0a0" stroke-width="0.6" />
<line x1="108.00" y1="110.40" x2="108.00" y2="112.80" stroke="#a0a0a0" stroke-width="0.6" />
<text x="98.00" y="109.20" font-size="6.6" text-anchor="middle" font-weight="normal " fill="#1a1a1a" >6</text>
<rect x="122.20" y="93.60" width="39.10" height="29.70" fill="#fff" stroke="#b4b4b4" stroke-width="0.7" />
<line x1="122.20" y1="93.60" x2="122.20" y2="123.30" stroke="#8a8a8a" stroke-width="0.7" />
<line x1="122.20" y1="123.30" x2="161.30" y2="123.30" stroke="#8a8a8a" stroke-width="0.7" />
<line x1="120.90" y1="123.30" x2="122.20" y2="123.30" stroke="#bbb" stroke-width="0.5" />
<line x1="120.90" y1="117.70" x2="122.20" y2="117.70" stroke="#bbb" stroke-width="0.5" />
<line x1="120.90" y1="112.09" x2="122.20" y2="112.09" stroke="#bbb" stroke-width="0.5" />
<line x1="120.90" y1="106.49" x2="122.20" y2="106.49" stroke="#bbb" stroke-width="0.5" />
<line x1="120.90" y1="100.88" x2="122.20" y2="100.88" stroke="#bbb" stroke-width="0.5" />
<line x1="120.90" y1="95.28" x2="122.20" y2="95.28" stroke="#bbb" stroke-width="0.5" />
<line x1="122.20" y1="123.30" x2="122.20" y2="124.60" stroke="#bbb" stroke-width="0.5" />
<line x1="131.97" y1="123.30" x2="131.97" y2="124.60" stroke="#bbb" stroke-width="0.5" />
<line x1="141.75" y1="123.30" x2="141.75" y2="124.60" stroke="#bbb" stroke-width="0.5" />
<line x1="151.53" y1="123.30" x2="151.53" y2="124.60" stroke="#bbb" stroke-width="0.5" />
<line x1="161.30" y1="123.30" x2="161.30" y2="124.60" stroke="#bbb" stroke-width="0.5" />
<path d="M122.2,123.3L122.2,122.7L122.8,122.4L123.4,122.1L124.0,119.1L124.6,115.1L125.2,110.5L125.8,104.1L126.4,106.2L127.0,105.9L127.6,110.5L128.2,112.1L128.8,115.0L129.4,116.5L130.0,118.2L130.6,119.2L131.2,119.3L131.8,119.7L132.4,120.3L133.0,120.1L133.6,120.4L134.2,120.6L134.8,120.8L135.4,120.6L136.0,120.9L136.6,120.8L137.2,121.0L137.8,121.1L138.4,121.3L139.0,121.4L139.6,121.6L140.2,121.8L140.8,121.7L141.4,122.0L142.0,122.0L142.6,122.1L143.2,122.2L143.8,122.4L144.4,122.4L145.0,122.5L145.6,122.7L146.2,122.7L146.8,122.8L147.4,122.9L148.0,123.0L148.6,123.0L149.2,123.1L149.8,123.1L150.4,123.2L151.0,123.2L151.6,123.3L152.2,123.3L152.8,123.3L153.4,123.3L154.0,123.3L154.6,123.3L155.2,123.3L155.8,123.3L156.4,123.3L157.0,123.3L157.6,123.3L158.2,123.3L158.8,123.3L159.4,123.3L160.0,123.3L160.6,123.3L161.2,123.3L161.3,123.3Z" fill="#626262" stroke="#2a2a2a" stroke-width="0.5" stroke-linejoin="round"/>
<line x1="131.40" y1="111.60" x2="152.30" y2="111.60" stroke="#a0a0a0" stroke-width="0.75" />
<line x1="131.40" y1="110.40" x2="131.40" y2="112.80" stroke="#a0a0a0" stroke-width="0.6" />
<line x1="152.30" y1="110.40" x2="152.30" y2="112.80" stroke="#a0a0a0" stroke-width="0.6" />
<text x="141.20" y="109.20" font-size="6.6" text-anchor="middle" font-weight="normal " fill="#1a1a1a" >10</text>
<rect x="166.50" y="93.60" width="39.50" height="29.70" fill="#fff" stroke="#b4b4b4" stroke-width="0.7" />
<line x1="166.50" y1="93.60" x2="166.50" y2="123.30" stroke="#8a8a8a" stroke-width="0.7" />
<line x1="166.50" y1="123.30" x2="206.00" y2="123.30" stroke="#8a8a8a" stroke-width="0.7" />
<line x1="165.20" y1="123.30" x2="166.50" y2="123.30" stroke="#bbb" stroke-width="0.5" />
<line x1="165.20" y1="117.70" x2="166.50" y2="117.70" stroke="#bbb" stroke-width="0.5" />
<line x1="165.20" y1="112.09" x2="166.50" y2="112.09" stroke="#bbb" stroke-width="0.5" />
<line x1="165.20" y1="106.49" x2="166.50" y2="106.49" stroke="#bbb" stroke-width="0.5" />
<line x1="165.20" y1="100.88" x2="166.50" y2="100.88" stroke="#bbb" stroke-width="0.5" />
<line x1="165.20" y1="95.28" x2="166.50" y2="95.28" stroke="#bbb" stroke-width="0.5" />
<line x1="166.50" y1="123.30" x2="166.50" y2="124.60" stroke="#bbb" stroke-width="0.5" />
<line x1="176.38" y1="123.30" x2="176.38" y2="124.60" stroke="#bbb" stroke-width="0.5" />
<line x1="186.25" y1="123.30" x2="186.25" y2="124.60" stroke="#bbb" stroke-width="0.5" />
<line x1="196.12" y1="123.30" x2="196.12" y2="124.60" stroke="#bbb" stroke-width="0.5" />
<line x1="206.00" y1="123.30" x2="206.00" y2="124.60" stroke="#bbb" stroke-width="0.5" />
<path d="M166.5,123.3L166.5,122.7L167.1,122.3L167.7,121.9L168.3,119.7L168.9,114.6L169.5,110.1L170.1,106.1L170.7,104.7L171.3,107.1L171.9,109.0L172.5,112.0L173.1,114.2L173.7,116.5L174.3,117.8L174.9,118.7L175.5,119.4L176.1,119.7L176.7,119.9L177.3,120.4L177.9,120.8L178.5,120.8L179.1,121.0L179.7,121.0L180.3,121.2L180.9,121.1L181.5,121.4L182.1,121.4L182.7,121.6L183.3,121.6L183.9,121.7L184.5,121.9L185.1,122.0L185.7,122.0L186.3,122.0L186.9,122.2L187.5,122.3L188.1,122.3L188.7,122.5L189.3,122.6L189.9,122.6L190.5,122.7L191.1,122.8L191.7,122.9L192.3,122.9L192.9,122.9L193.5,123.0L194.1,123.1L194.7,123.1L195.3,123.2L195.9,123.2L196.5,123.3L197.1,123.3L197.7,123.3L198.3,123.3L198.9,123.3L199.5,123.3L200.1,123.3L200.7,123.3L201.3,123.3L201.9,123.3L202.5,123.3L203.1,123.3L203.7,123.3L204.3,123.3L204.9,123.3L205.5,123.3L206.0,123.3Z" fill="#626262" stroke="#2a2a2a" stroke-width="0.5" stroke-linejoin="round"/>
<line x1="175.40" y1="111.60" x2="197.80" y2="111.60" stroke="#a0a0a0" stroke-width="0.75" />
<line x1="175.40" y1="110.40" x2="175.40" y2="112.80" stroke="#a0a0a0" stroke-width="0.6" />
<line x1="197.80" y1="110.40" x2="197.80" y2="112.80" stroke="#a0a0a0" stroke-width="0.6" />
<text x="185.90" y="109.20" font-size="6.6" text-anchor="middle" font-weight="normal " fill="#1a1a1a" >10</text>
<rect x="31.30" y="128.60" width="39.90" height="29.70" fill="#fff" stroke="#b4b4b4" stroke-width="0.7" />
<line x1="31.30" y1="128.60" x2="31.30" y2="158.30" stroke="#8a8a8a" stroke-width="0.7" />
<line x1="31.30" y1="158.30" x2="71.20" y2="158.30" stroke="#8a8a8a" stroke-width="0.7" />
<line x1="30.00" y1="158.30" x2="31.30" y2="158.30" stroke="#bbb" stroke-width="0.5" />
<line x1="30.00" y1="152.70" x2="31.30" y2="152.70" stroke="#bbb" stroke-width="0.5" />
<line x1="30.00" y1="147.09" x2="31.30" y2="147.09" stroke="#bbb" stroke-width="0.5" />
<line x1="30.00" y1="141.49" x2="31.30" y2="141.49" stroke="#bbb" stroke-width="0.5" />
<line x1="30.00" y1="135.88" x2="31.30" y2="135.88" stroke="#bbb" stroke-width="0.5" />
<line x1="30.00" y1="130.28" x2="31.30" y2="130.28" stroke="#bbb" stroke-width="0.5" />
<line x1="31.30" y1="158.30" x2="31.30" y2="159.60" stroke="#bbb" stroke-width="0.5" />
<line x1="41.27" y1="158.30" x2="41.27" y2="159.60" stroke="#bbb" stroke-width="0.5" />
<line x1="51.25" y1="158.30" x2="51.25" y2="159.60" stroke="#bbb" stroke-width="0.5" />
<line x1="61.22" y1="158.30" x2="61.22" y2="159.60" stroke="#bbb" stroke-width="0.5" />
<line x1="71.20" y1="158.30" x2="71.20" y2="159.60" stroke="#bbb" stroke-width="0.5" />
<path d="M31.3,158.3L31.3,157.4L31.9,157.4L32.5,157.5L33.1,157.4L33.7,157.5L34.3,157.4L34.9,157.4L35.5,157.3L36.1,157.0L36.7,156.8L37.3,156.4L37.9,155.8L38.5,155.6L39.1,155.1L39.7,154.5L40.3,153.3L40.9,152.7L41.5,151.6L42.1,150.6L42.7,150.1L43.3,149.3L43.9,148.9L44.5,147.9L45.1,144.9L45.7,144.1L46.3,145.0L46.9,146.2L47.5,145.2L48.1,145.9L48.7,147.5L49.3,150.3L49.9,151.3L50.5,152.9L51.1,153.7L51.7,154.9L52.3,155.9L52.9,156.5L53.5,157.0L54.1,157.2L54.7,157.4L55.3,157.7L55.9,157.8L56.5,157.9L57.1,158.0L57.7,158.0L58.3,158.1L58.9,158.1L59.5,158.2L60.1,158.2L60.7,158.3L61.3,158.3L61.9,158.3L62.5,158.3L63.1,158.3L63.7,158.3L64.3,158.3L64.9,158.3L65.5,158.3L66.1,158.3L66.7,158.3L67.3,158.3L67.9,158.3L68.5,158.3L69.1,158.3L69.7,158.3L70.3,158.3L70.9,158.3L71.2,158.3Z" fill="#626262" stroke="#2a2a2a" stroke-width="0.5" stroke-linejoin="round"/>
<line x1="43.10" y1="146.60" x2="63.80" y2="146.60" stroke="#a0a0a0" stroke-width="0.75" />
<line x1="43.10" y1="145.40" x2="43.10" y2="147.80" stroke="#a0a0a0" stroke-width="0.6" />
<line x1="63.80" y1="145.40" x2="63.80" y2="147.80" stroke="#a0a0a0" stroke-width="0.6" />
<text x="52.50" y="144.20" font-size="6.6" text-anchor="middle" font-weight="normal " fill="#1a1a1a" >70</text>
<rect x="75.00" y="128.60" width="40.00" height="29.70" fill="#fff" stroke="#b4b4b4" stroke-width="0.7" />
<line x1="75.00" y1="128.60" x2="75.00" y2="158.30" stroke="#8a8a8a" stroke-width="0.7" />
<line x1="75.00" y1="158.30" x2="115.00" y2="158.30" stroke="#8a8a8a" stroke-width="0.7" />
<line x1="73.70" y1="158.30" x2="75.00" y2="158.30" stroke="#bbb" stroke-width="0.5" />
<line x1="73.70" y1="152.70" x2="75.00" y2="152.70" stroke="#bbb" stroke-width="0.5" />
<line x1="73.70" y1="147.09" x2="75.00" y2="147.09" stroke="#bbb" stroke-width="0.5" />
<line x1="73.70" y1="141.49" x2="75.00" y2="141.49" stroke="#bbb" stroke-width="0.5" />
<line x1="73.70" y1="135.88" x2="75.00" y2="135.88" stroke="#bbb" stroke-width="0.5" />
<line x1="73.70" y1="130.28" x2="75.00" y2="130.28" stroke="#bbb" stroke-width="0.5" />
<line x1="75.00" y1="158.30" x2="75.00" y2="159.60" stroke="#bbb" stroke-width="0.5" />
<line x1="85.00" y1="158.30" x2="85.00" y2="159.60" stroke="#bbb" stroke-width="0.5" />
<line x1="95.00" y1="158.30" x2="95.00" y2="159.60" stroke="#bbb" stroke-width="0.5" />
<line x1="105.00" y1="158.30" x2="105.00" y2="159.60" stroke="#bbb" stroke-width="0.5" />
<line x1="115.00" y1="158.30" x2="115.00" y2="159.60" stroke="#bbb" stroke-width="0.5" />
<path d="M75.0,158.3L75.0,157.5L75.6,157.4L76.2,157.2L76.8,157.1L77.4,156.4L78.0,155.1L78.6,153.7L79.2,150.8L79.8,149.2L80.4,146.8L81.0,146.0L81.6,145.6L82.2,144.3L82.8,147.1L83.4,149.5L84.0,151.1L84.6,152.7L85.2,152.8L85.8,151.1L86.4,150.8L87.0,150.7L87.6,150.2L88.2,149.8L88.8,148.9L89.4,149.8L90.0,150.1L90.6,149.9L91.2,150.4L91.8,150.3L92.4,150.9L93.0,151.9L93.6,152.7L94.2,152.7L94.8,153.3L95.4,154.6L96.0,154.8L96.6,155.3L97.2,156.0L97.8,156.5L98.4,156.7L99.0,157.1L99.6,157.4L100.2,157.6L100.8,157.9L101.4,158.0L102.0,158.1L102.6,158.1L103.2,158.2L103.8,158.2L104.4,158.3L105.0,158.3L105.6,158.3L106.2,158.3L106.8,158.3L107.4,158.3L108.0,158.3L108.6,158.3L109.2,158.3L109.8,158.3L110.4,158.3L111.0,158.3L111.6,158.3L112.2,158.3L112.8,158.3L113.4,158.3L114.0,158.3L114.6,158.3L115.0,158.3Z" fill="#626262" stroke="#2a2a2a" stroke-width="0.5" stroke-linejoin="round"/>
<line x1="87.20" y1="146.60" x2="108.00" y2="146.60" stroke="#a0a0a0" stroke-width="0.75" />
<line x1="87.20" y1="145.40" x2="87.20" y2="147.80" stroke="#a0a0a0" stroke-width="0.6" />
<line x1="108.00" y1="145.40" x2="108.00" y2="147.80" stroke="#a0a0a0" stroke-width="0.6" />
<text x="98.00" y="144.20" font-size="6.6" text-anchor="middle" font-weight="normal " fill="#1a1a1a" >43</text>
<rect x="122.20" y="128.60" width="39.10" height="29.70" fill="#fff" stroke="#b4b4b4" stroke-width="0.7" />
<line x1="122.20" y1="128.60" x2="122.20" y2="158.30" stroke="#8a8a8a" stroke-width="0.7" />
<line x1="122.20" y1="158.30" x2="161.30" y2="158.30" stroke="#8a8a8a" stroke-width="0.7" />
<line x1="120.90" y1="158.30" x2="122.20" y2="158.30" stroke="#bbb" stroke-width="0.5" />
<line x1="120.90" y1="152.70" x2="122.20" y2="152.70" stroke="#bbb" stroke-width="0.5" />
<line x1="120.90" y1="147.09" x2="122.20" y2="147.09" stroke="#bbb" stroke-width="0.5" />
<line x1="120.90" y1="141.49" x2="122.20" y2="141.49" stroke="#bbb" stroke-width="0.5" />
<line x1="120.90" y1="135.88" x2="122.20" y2="135.88" stroke="#bbb" stroke-width="0.5" />
<line x1="120.90" y1="130.28" x2="122.20" y2="130.28" stroke="#bbb" stroke-width="0.5" />
<line x1="122.20" y1="158.30" x2="122.20" y2="159.60" stroke="#bbb" stroke-width="0.5" />
<line x1="131.97" y1="158.30" x2="131.97" y2="159.60" stroke="#bbb" stroke-width="0.5" />
<line x1="141.75" y1="158.30" x2="141.75" y2="159.60" stroke="#bbb" stroke-width="0.5" />
<line x1="151.53" y1="158.30" x2="151.53" y2="159.60" stroke="#bbb" stroke-width="0.5" />
<line x1="161.30" y1="158.30" x2="161.30" y2="159.60" stroke="#bbb" stroke-width="0.5" />
<path d="M122.2,158.3L122.2,157.5L122.8,156.9L123.4,156.3L124.0,155.0L124.6,153.8L125.2,152.2L125.8,151.9L126.4,151.0L127.0,151.2L127.6,152.1L128.2,152.4L128.8,152.8L129.4,152.7L130.0,152.5L130.6,150.8L131.2,150.7L131.8,149.9L132.4,147.9L133.0,146.7L133.6,145.8L134.2,145.0L134.8,147.1L135.4,148.1L136.0,148.9L136.6,148.5L137.2,150.9L137.8,151.9L138.4,153.1L139.0,154.0L139.6,154.9L140.2,155.3L140.8,156.0L141.4,156.6L142.0,156.8L142.6,157.1L143.2,157.1L143.8,157.3L144.4,157.5L145.0,157.6L145.6,157.8L146.2,158.0L146.8,158.0L147.4,158.1L148.0,158.1L148.6,158.1L149.2,158.2L149.8,158.2L150.4,158.2L151.0,158.2L151.6,158.3L152.2,158.3L152.8,158.3L153.4,158.3L154.0,158.3L154.6,158.3L155.2,158.3L155.8,158.3L156.4,158.3L157.0,158.3L157.6,158.3L158.2,158.3L158.8,158.3L159.4,158.3L160.0,158.3L160.6,158.3L161.2,158.3L161.3,158.3Z" fill="#626262" stroke="#2a2a2a" stroke-width="0.5" stroke-linejoin="round"/>
<line x1="131.40" y1="146.60" x2="152.30" y2="146.60" stroke="#a0a0a0" stroke-width="0.75" />
<line x1="131.40" y1="145.40" x2="131.40" y2="147.80" stroke="#a0a0a0" stroke-width="0.6" />
<line x1="152.30" y1="145.40" x2="152.30" y2="147.80" stroke="#a0a0a0" stroke-width="0.6" />
<text x="141.20" y="144.20" font-size="6.6" text-anchor="middle" font-weight="normal " fill="#1a1a1a" >66</text>
<rect x="166.50" y="128.60" width="39.50" height="29.70" fill="#fff" stroke="#b4b4b4" stroke-width="0.7" />
<line x1="166.50" y1="128.60" x2="166.50" y2="158.30" stroke="#8a8a8a" stroke-width="0.7" />
<line x1="166.50" y1="158.30" x2="206.00" y2="158.30" stroke="#8a8a8a" stroke-width="0.7" />
<line x1="165.20" y1="158.30" x2="166.50" y2="158.30" stroke="#bbb" stroke-width="0.5" />
<line x1="165.20" y1="152.70" x2="166.50" y2="152.70" stroke="#bbb" stroke-width="0.5" />
<line x1="165.20" y1="147.09" x2="166.50" y2="147.09" stroke="#bbb" stroke-width="0.5" />
<line x1="165.20" y1="141.49" x2="166.50" y2="141.49" stroke="#bbb" stroke-width="0.5" />
<line x1="165.20" y1="135.88" x2="166.50" y2="135.88" stroke="#bbb" stroke-width="0.5" />
<line x1="165.20" y1="130.28" x2="166.50" y2="130.28" stroke="#bbb" stroke-width="0.5" />
<line x1="166.50" y1="158.30" x2="166.50" y2="159.60" stroke="#bbb" stroke-width="0.5" />
<line x1="176.38" y1="158.30" x2="176.38" y2="159.60" stroke="#bbb" stroke-width="0.5" />
<line x1="186.25" y1="158.30" x2="186.25" y2="159.60" stroke="#bbb" stroke-width="0.5" />
<line x1="196.12" y1="158.30" x2="196.12" y2="159.60" stroke="#bbb" stroke-width="0.5" />
<line x1="206.00" y1="158.30" x2="206.00" y2="159.60" stroke="#bbb" stroke-width="0.5" />
<path d="M166.5,158.3L166.5,157.4L167.1,156.5L167.7,155.6L168.3,154.4L168.9,151.8L169.5,147.7L170.1,146.6L170.7,150.1L171.3,150.4L171.9,151.3L172.5,152.3L173.1,152.6L173.7,153.1L174.3,152.9L174.9,151.6L175.5,151.0L176.1,150.9L176.7,150.5L177.3,149.9L177.9,150.2L178.5,149.5L179.1,150.1L179.7,151.2L180.3,151.3L180.9,151.8L181.5,153.1L182.1,154.0L182.7,155.1L183.3,155.7L183.9,156.0L184.5,156.6L185.1,156.9L185.7,157.1L186.3,157.3L186.9,157.6L187.5,157.7L188.1,157.9L188.7,158.0L189.3,158.0L189.9,158.1L190.5,158.1L191.1,158.1L191.7,158.1L192.3,158.1L192.9,158.2L193.5,158.2L194.1,158.2L194.7,158.2L195.3,158.3L195.9,158.3L196.5,158.3L197.1,158.3L197.7,158.3L198.3,158.3L198.9,158.3L199.5,158.3L200.1,158.3L200.7,158.3L201.3,158.3L201.9,158.3L202.5,158.3L203.1,158.3L203.7,158.3L204.3,158.3L204.9,158.3L205.5,158.3L206.0,158.3Z" fill="#626262" stroke="#2a2a2a" stroke-width="0.5" stroke-linejoin="round"/>
<line x1="175.40" y1="146.60" x2="197.80" y2="146.60" stroke="#a0a0a0" stroke-width="0.75" />
<line x1="175.40" y1="145.40" x2="175.40" y2="147.80" stroke="#a0a0a0" stroke-width="0.6" />
<line x1="197.80" y1="145.40" x2="197.80" y2="147.80" stroke="#a0a0a0" stroke-width="0.6" />
<text x="185.90" y="144.20" font-size="6.6" text-anchor="middle" font-weight="normal " fill="#1a1a1a" >47</text>
<line x1="117.70" y1="12.00" x2="117.70" y2="162.00" stroke="#555" stroke-width="0.9" />
<line x1="30.00" y1="170.20" x2="109.30" y2="170.20" stroke="#555" stroke-width="1.0" />
<line x1="125.80" y1="170.20" x2="250.00" y2="170.20" stroke="#555" stroke-width="1.0" />
<text x="112.00" y="172.20" font-size="7.6" text-anchor="start" font-weight="normal" fill="#222" stroke="#222" stroke-width="0.25" textLength="11.6" lengthAdjust="spacingAndGlyphs">M30</text>
<text x="258.30" y="9.30" font-size="11.5" text-anchor="start" font-weight="bold" fill="#000" >B</text>
<line x1="286.50" y1="24.10" x2="286.50" y2="158.50" stroke="#000" stroke-width="1.0" />
<line x1="284.30" y1="158.50" x2="286.50" y2="158.50" stroke="#111" stroke-width="0.8" />
<text x="283.10" y="161.50" font-size="8.3" text-anchor="end" font-weight="normal" fill="#000" stroke="#000" stroke-width="0.25" >0</text>
<line x1="284.30" y1="124.90" x2="286.50" y2="124.90" stroke="#111" stroke-width="0.8" />
<text x="283.10" y="127.90" font-size="8.3" text-anchor="end" font-weight="normal" fill="#000" stroke="#000" stroke-width="0.25" >20</text>
<line x1="284.30" y1="91.30" x2="286.50" y2="91.30" stroke="#111" stroke-width="0.8" />
<text x="283.10" y="94.30" font-size="8.3" text-anchor="end" font-weight="normal" fill="#000" stroke="#000" stroke-width="0.25" >40</text>
<line x1="284.30" y1="57.70" x2="286.50" y2="57.70" stroke="#111" stroke-width="0.8" />
<text x="283.10" y="60.70" font-size="8.3" text-anchor="end" font-weight="normal" fill="#000" stroke="#000" stroke-width="0.25" >60</text>
<line x1="284.30" y1="24.10" x2="286.50" y2="24.10" stroke="#111" stroke-width="0.8" />
<text x="283.10" y="27.10" font-size="8.3" text-anchor="end" font-weight="normal" fill="#000" stroke="#000" stroke-width="0.25" >80</text>
<line x1="286.50" y1="158.50" x2="446.90" y2="158.50" stroke="#000" stroke-width="1.0" />
<line x1="326.30" y1="158.50" x2="326.30" y2="160.70" stroke="#111" stroke-width="0.8" />
<line x1="366.50" y1="158.50" x2="366.50" y2="160.70" stroke="#111" stroke-width="0.8" />
<line x1="406.70" y1="158.50" x2="406.70" y2="160.70" stroke="#111" stroke-width="0.8" />
<line x1="446.90" y1="158.50" x2="446.90" y2="160.70" stroke="#111" stroke-width="0.8" />
<rect x="291.00" y="149.26" width="7.50" height="9.24" fill="#ffffff" stroke="#222" stroke-width="0.6" />
<line x1="294.75" y1="144.72" x2="294.75" y2="153.80" stroke="#111" stroke-width="0.6" />
<line x1="293.45" y1="144.72" x2="296.05" y2="144.72" stroke="#111" stroke-width="0.7" />
<line x1="293.75" y1="153.80" x2="295.75" y2="153.80" stroke="#111" stroke-width="0.9" />
<rect x="298.50" y="149.26" width="7.50" height="9.24" fill="#a6a6a6" stroke="#222" stroke-width="0.6" />
<line x1="302.25" y1="147.41" x2="302.25" y2="151.11" stroke="#111" stroke-width="0.6" />
<line x1="300.95" y1="147.41" x2="303.55" y2="147.41" stroke="#111" stroke-width="0.7" />
<line x1="301.25" y1="151.11" x2="303.25" y2="151.11" stroke="#111" stroke-width="0.9" />
<rect x="306.00" y="145.73" width="7.50" height="12.77" fill="#595959" stroke="#222" stroke-width="0.6" />
<line x1="309.75" y1="139.68" x2="309.75" y2="151.78" stroke="#111" stroke-width="0.6" />
<line x1="308.45" y1="139.68" x2="311.05" y2="139.68" stroke="#111" stroke-width="0.7" />
<line x1="308.75" y1="151.78" x2="310.75" y2="151.78" stroke="#111" stroke-width="0.9" />
<rect x="313.50" y="45.94" width="7.50" height="112.56" fill="#1a1a1a" stroke="#222" stroke-width="0.6" />
<line x1="317.25" y1="35.86" x2="317.25" y2="56.02" stroke="#111" stroke-width="0.6" />
<line x1="315.95" y1="35.86" x2="318.55" y2="35.86" stroke="#111" stroke-width="0.7" />
<rect x="331.30" y="151.78" width="7.50" height="6.72" fill="#ffffff" stroke="#222" stroke-width="0.6" />
<line x1="335.05" y1="145.73" x2="335.05" y2="157.83" stroke="#111" stroke-width="0.6" />
<line x1="333.75" y1="145.73" x2="336.35" y2="145.73" stroke="#111" stroke-width="0.7" />
<line x1="334.05" y1="157.83" x2="336.05" y2="157.83" stroke="#111" stroke-width="0.9" />
<rect x="338.80" y="141.36" width="7.50" height="17.14" fill="#a6a6a6" stroke="#222" stroke-width="0.6" />
<line x1="342.55" y1="134.48" x2="342.55" y2="148.25" stroke="#111" stroke-width="0.6" />
<line x1="341.25" y1="134.48" x2="343.85" y2="134.48" stroke="#111" stroke-width="0.7" />
<line x1="341.55" y1="148.25" x2="343.55" y2="148.25" stroke="#111" stroke-width="0.9" />
<rect x="346.30" y="145.06" width="7.50" height="13.44" fill="#595959" stroke="#222" stroke-width="0.6" />
<line x1="350.05" y1="138.00" x2="350.05" y2="152.12" stroke="#111" stroke-width="0.6" />
<line x1="348.75" y1="138.00" x2="351.35" y2="138.00" stroke="#111" stroke-width="0.7" />
<line x1="349.05" y1="152.12" x2="351.05" y2="152.12" stroke="#111" stroke-width="0.9" />
<rect x="353.80" y="90.80" width="7.50" height="67.70" fill="#1a1a1a" stroke="#222" stroke-width="0.6" />
<line x1="357.55" y1="84.58" x2="357.55" y2="97.01" stroke="#111" stroke-width="0.6" />
<line x1="356.25" y1="84.58" x2="358.85" y2="84.58" stroke="#111" stroke-width="0.7" />
<rect x="371.50" y="149.26" width="7.50" height="9.24" fill="#ffffff" stroke="#222" stroke-width="0.6" />
<line x1="375.25" y1="144.05" x2="375.25" y2="154.47" stroke="#111" stroke-width="0.6" />
<line x1="373.95" y1="144.05" x2="376.55" y2="144.05" stroke="#111" stroke-width="0.7" />
<line x1="374.25" y1="154.47" x2="376.25" y2="154.47" stroke="#111" stroke-width="0.9" />
<rect x="379.00" y="150.94" width="7.50" height="7.56" fill="#a6a6a6" stroke="#222" stroke-width="0.6" />
<line x1="382.75" y1="148.59" x2="382.75" y2="153.29" stroke="#111" stroke-width="0.6" />
<line x1="381.45" y1="148.59" x2="384.05" y2="148.59" stroke="#111" stroke-width="0.7" />
<line x1="381.75" y1="153.29" x2="383.75" y2="153.29" stroke="#111" stroke-width="0.9" />
<rect x="386.50" y="146.07" width="7.50" height="12.43" fill="#595959" stroke="#222" stroke-width="0.6" />
<line x1="390.25" y1="141.70" x2="390.25" y2="150.44" stroke="#111" stroke-width="0.6" />
<line x1="388.95" y1="141.70" x2="391.55" y2="141.70" stroke="#111" stroke-width="0.7" />
<line x1="389.25" y1="150.44" x2="391.25" y2="150.44" stroke="#111" stroke-width="0.9" />
<rect x="394.00" y="39.22" width="7.50" height="119.28" fill="#1a1a1a" stroke="#222" stroke-width="0.6" />
<line x1="397.75" y1="27.46" x2="397.75" y2="50.98" stroke="#111" stroke-width="0.6" />
<line x1="396.45" y1="27.46" x2="399.05" y2="27.46" stroke="#111" stroke-width="0.7" />
<rect x="411.70" y="148.42" width="7.50" height="10.08" fill="#ffffff" stroke="#222" stroke-width="0.6" />
<line x1="415.45" y1="143.04" x2="415.45" y2="153.80" stroke="#111" stroke-width="0.6" />
<line x1="414.15" y1="143.04" x2="416.75" y2="143.04" stroke="#111" stroke-width="0.7" />
<line x1="414.45" y1="153.80" x2="416.45" y2="153.80" stroke="#111" stroke-width="0.9" />
<rect x="419.20" y="152.96" width="7.50" height="5.54" fill="#a6a6a6" stroke="#222" stroke-width="0.6" />
<line x1="422.95" y1="150.77" x2="422.95" y2="155.14" stroke="#111" stroke-width="0.6" />
<line x1="421.65" y1="150.77" x2="424.25" y2="150.77" stroke="#111" stroke-width="0.7" />
<line x1="421.95" y1="155.14" x2="423.95" y2="155.14" stroke="#111" stroke-width="0.9" />
<rect x="426.70" y="147.58" width="7.50" height="10.92" fill="#595959" stroke="#222" stroke-width="0.6" />
<line x1="430.45" y1="144.05" x2="430.45" y2="151.11" stroke="#111" stroke-width="0.6" />
<line x1="429.15" y1="144.05" x2="431.75" y2="144.05" stroke="#111" stroke-width="0.7" />
<line x1="429.45" y1="151.11" x2="431.45" y2="151.11" stroke="#111" stroke-width="0.9" />
<rect x="434.20" y="81.39" width="7.50" height="77.11" fill="#1a1a1a" stroke="#222" stroke-width="0.6" />
<line x1="437.95" y1="67.44" x2="437.95" y2="95.33" stroke="#111" stroke-width="0.6" />
<line x1="436.65" y1="67.44" x2="439.25" y2="67.44" stroke="#111" stroke-width="0.7" />
<text x="306.00" y="171.60" font-size="8" text-anchor="middle" font-weight="normal" fill="#000" stroke="#000" stroke-width="0.25" >-Sucrose</text>
<text x="346.30" y="171.60" font-size="8" text-anchor="middle" font-weight="normal" fill="#000" stroke="#000" stroke-width="0.25" >+Sucrose</text>
<text x="386.50" y="171.60" font-size="8" text-anchor="middle" font-weight="normal" fill="#000" stroke="#000" stroke-width="0.25" >-Dynasore</text>
<text x="426.70" y="171.60" font-size="8" text-anchor="middle" font-weight="normal" fill="#000" stroke="#000" stroke-width="0.25" >+Dynasore</text>
<text x="0" y="0" font-size="8.5" text-anchor="middle" fill="#000" stroke="#000" stroke-width="0.2" transform="translate(269.50,90.50) rotate(-90)">% apoptotic cells (M30)</text>
<path d="M316.90,31.60 L316.90,29.10 L358.30,29.10 L358.30,31.60" fill="none" stroke="#333" stroke-width="0.6"/>
<text x="339.30" y="30.65" font-size="12.5" text-anchor="middle" font-weight="bold" fill="#000" letter-spacing="0.8">**</text>
<path d="M397.30,25.40 L397.30,22.90 L439.40,22.90 L439.40,25.40" fill="none" stroke="#333" stroke-width="0.6"/>
<text x="419.30" y="24.85" font-size="12.5" text-anchor="middle" font-weight="bold" fill="#000" letter-spacing="0.8">**</text>
<rect x="452.40" y="68.90" width="5.00" height="3.70" fill="#ffffff" stroke="#111" stroke-width="0.95" />
<text x="460.80" y="72.90" font-size="7.4" text-anchor="start" font-weight="normal" fill="#000" stroke="#000" stroke-width="0.25" >Buffer</text>
<rect x="452.40" y="81.10" width="5.00" height="3.70" fill="#a6a6a6" stroke="#111" stroke-width="0.95" />
<text x="460.80" y="85.10" font-size="7.4" text-anchor="start" font-weight="normal" fill="#000" stroke="#000" stroke-width="0.25" >PFN</text>
<rect x="452.40" y="93.30" width="5.00" height="3.70" fill="#595959" stroke="#111" stroke-width="0.95" />
<text x="460.80" y="97.30" font-size="7.4" text-anchor="start" font-weight="normal" fill="#000" stroke="#000" stroke-width="0.25" >GzmB</text>
<rect x="452.40" y="106.80" width="5.00" height="3.70" fill="#1a1a1a" stroke="#111" stroke-width="0.95" />
<text x="471.30" y="108.40" font-size="7.4" text-anchor="middle" font-weight="normal" fill="#000" stroke="#000" stroke-width="0.25" >PFN</text>
<text x="471.30" y="117.30" font-size="7.4" text-anchor="middle" font-weight="normal" fill="#000" stroke="#000" stroke-width="0.25" >+GzmB</text>
<text x="1.20" y="193.80" font-size="11.5" text-anchor="start" font-weight="bold" fill="#000" >C</text>
<line x1="30.00" y1="200.70" x2="125.50" y2="200.70" stroke="#555" stroke-width="1.0" />
<line x1="156.80" y1="200.70" x2="246.50" y2="200.70" stroke="#555" stroke-width="1.0" />
<text x="141.00" y="202.80" font-size="7.8" text-anchor="middle" font-weight="normal" fill="#000" stroke="#000" stroke-width="0.25" >siRNAs</text>
<text x="52.40" y="217.90" font-size="7.8" text-anchor="middle" font-weight="normal" fill="#000" stroke="#000" stroke-width="0.25" >Ctrl</text>
<text x="95.60" y="217.90" font-size="7.8" text-anchor="middle" font-weight="normal" fill="#000" stroke="#000" stroke-width="0.25" >Dyn2</text>
<text x="139.00" y="217.90" font-size="7.8" text-anchor="middle" font-weight="normal" fill="#000" stroke="#000" stroke-width="0.25" >AP2&#956;2</text>
<text x="182.60" y="217.90" font-size="7.8" text-anchor="middle" font-weight="normal" fill="#000" stroke="#000" stroke-width="0.25" >CHC</text>
<text x="226.00" y="217.90" font-size="7.8" text-anchor="middle" font-weight="normal" fill="#000" stroke="#000" stroke-width="0.25" >Flotillin-1</text>
<text x="25.80" y="241.60" font-size="7.8" text-anchor="end" font-weight="normal" fill="#000" stroke="#000" stroke-width="0.25" >Buffer</text>
<text x="25.80" y="276.80" font-size="7.8" text-anchor="end" font-weight="normal" fill="#000" stroke="#000" stroke-width="0.25" >+PFN</text>
<text x="25.80" y="312.60" font-size="7.8" text-anchor="end" font-weight="normal" fill="#000" stroke="#000" stroke-width="0.25" >+GzmB</text>
<text x="13.60" y="342.40" font-size="7.8" text-anchor="middle" font-weight="normal" fill="#000" stroke="#000" stroke-width="0.25" >+PFN</text>
<text x="13.60" y="351.50" font-size="7.8" text-anchor="middle" font-weight="normal" fill="#000" stroke="#000" stroke-width="0.25" >+GzmB</text>
<rect x="31.20" y="224.20" width="39.80" height="29.80" fill="#fff" stroke="#b4b4b4" stroke-width="0.7" />
<line x1="31.20" y1="224.20" x2="31.20" y2="254.00" stroke="#8a8a8a" stroke-width="0.7" />
<line x1="31.20" y1="254.00" x2="71.00" y2="254.00" stroke="#8a8a8a" stroke-width="0.7" />
<line x1="29.90" y1="254.00" x2="31.20" y2="254.00" stroke="#bbb" stroke-width="0.5" />
<line x1="29.90" y1="248.38" x2="31.20" y2="248.38" stroke="#bbb" stroke-width="0.5" />
<line x1="29.90" y1="242.75" x2="31.20" y2="242.75" stroke="#bbb" stroke-width="0.5" />
<line x1="29.90" y1="237.13" x2="31.20" y2="237.13" stroke="#bbb" stroke-width="0.5" />
<line x1="29.90" y1="231.51" x2="31.20" y2="231.51" stroke="#bbb" stroke-width="0.5" />
<line x1="29.90" y1="225.89" x2="31.20" y2="225.89" stroke="#bbb" stroke-width="0.5" />
<line x1="31.20" y1="254.00" x2="31.20" y2="255.30" stroke="#bbb" stroke-width="0.5" />
<line x1="41.15" y1="254.00" x2="41.15" y2="255.30" stroke="#bbb" stroke-width="0.5" />
<line x1="51.10" y1="254.00" x2="51.10" y2="255.30" stroke="#bbb" stroke-width="0.5" />
<line x1="61.05" y1="254.00" x2="61.05" y2="255.30" stroke="#bbb" stroke-width="0.5" />
<line x1="71.00" y1="254.00" x2="71.00" y2="255.30" stroke="#bbb" stroke-width="0.5" />
<path d="M31.2,254.0L31.2,253.4L31.8,253.1L32.4,252.8L33.0,252.6L33.6,248.7L34.2,243.7L34.8,236.5L35.4,232.2L36.0,231.5L36.6,233.8L37.2,238.6L37.8,240.2L38.4,243.8L39.0,247.3L39.6,248.7L40.2,249.0L40.8,250.1L41.4,250.7L42.0,250.8L42.6,250.8L43.2,250.8L43.8,250.8L44.4,251.3L45.0,251.1L45.6,251.4L46.2,251.5L46.8,251.7L47.4,252.1L48.0,252.1L48.6,252.4L49.2,252.6L49.8,252.6L50.4,252.6L51.0,252.6L51.6,252.8L52.2,252.7L52.8,252.7L53.4,252.9L54.0,252.9L54.6,252.9L55.2,253.0L55.8,253.1L56.4,253.1L57.0,253.2L57.6,253.3L58.2,253.4L58.8,253.6L59.4,253.7L60.0,253.8L60.6,253.9L61.2,254.0L61.8,254.0L62.4,254.0L63.0,254.0L63.6,254.0L64.2,254.0L64.8,254.0L65.4,254.0L66.0,254.0L66.6,254.0L67.2,254.0L67.8,254.0L68.4,254.0L69.0,254.0L69.6,254.0L70.2,254.0L70.8,254.0L71.0,254.0Z" fill="#626262" stroke="#2a2a2a" stroke-width="0.5" stroke-linejoin="round"/>
<line x1="40.40" y1="242.10" x2="61.90" y2="242.10" stroke="#a0a0a0" stroke-width="0.75" />
<line x1="40.40" y1="240.90" x2="40.40" y2="243.30" stroke="#a0a0a0" stroke-width="0.6" />
<line x1="61.90" y1="240.90" x2="61.90" y2="243.30" stroke="#a0a0a0" stroke-width="0.6" />
<text x="51.50" y="240.10" font-size="6.6" text-anchor="middle" font-weight="normal " fill="#1a1a1a" >10</text>
<rect x="74.90" y="224.20" width="40.00" height="29.80" fill="#fff" stroke="#b4b4b4" stroke-width="0.7" />
<line x1="74.90" y1="224.20" x2="74.90" y2="254.00" stroke="#8a8a8a" stroke-width="0.7" />
<line x1="74.90" y1="254.00" x2="114.90" y2="254.00" stroke="#8a8a8a" stroke-width="0.7" />
<line x1="73.60" y1="254.00" x2="74.90" y2="254.00" stroke="#bbb" stroke-width="0.5" />
<line x1="73.60" y1="248.38" x2="74.90" y2="248.38" stroke="#bbb" stroke-width="0.5" />
<line x1="73.60" y1="242.75" x2="74.90" y2="242.75" stroke="#bbb" stroke-width="0.5" />
<line x1="73.60" y1="237.13" x2="74.90" y2="237.13" stroke="#bbb" stroke-width="0.5" />
<line x1="73.60" y1="231.51" x2="74.90" y2="231.51" stroke="#bbb" stroke-width="0.5" />
<line x1="73.60" y1="225.89" x2="74.90" y2="225.89" stroke="#bbb" stroke-width="0.5" />
<line x1="74.90" y1="254.00" x2="74.90" y2="255.30" stroke="#bbb" stroke-width="0.5" />
<line x1="84.90" y1="254.00" x2="84.90" y2="255.30" stroke="#bbb" stroke-width="0.5" />
<line x1="94.90" y1="254.00" x2="94.90" y2="255.30" stroke="#bbb" stroke-width="0.5" />
<line x1="104.90" y1="254.00" x2="104.90" y2="255.30" stroke="#bbb" stroke-width="0.5" />
<line x1="114.90" y1="254.00" x2="114.90" y2="255.30" stroke="#bbb" stroke-width="0.5" />
<path d="M74.9,254.0L74.9,252.5L75.5,249.0L76.1,244.4L76.7,241.6L77.3,239.9L77.9,237.2L78.5,235.8L79.1,239.2L79.7,240.9L80.3,241.4L80.9,243.3L81.5,242.9L82.1,245.2L82.7,245.8L83.3,246.7L83.9,246.5L84.5,247.7L85.1,248.2L85.7,248.8L86.3,249.0L86.9,249.6L87.5,250.0L88.1,250.2L88.7,250.5L89.3,250.9L89.9,250.9L90.5,251.2L91.1,251.4L91.7,251.6L92.3,252.0L92.9,252.2L93.5,252.4L94.1,252.5L94.7,252.6L95.3,252.8L95.9,252.9L96.5,253.0L97.1,253.2L97.7,253.3L98.3,253.3L98.9,253.5L99.5,253.5L100.1,253.6L100.7,253.7L101.3,253.7L101.9,253.8L102.5,253.8L103.1,253.9L103.7,253.9L104.3,254.0L104.9,254.0L105.5,254.0L106.1,254.0L106.7,254.0L107.3,254.0L107.9,254.0L108.5,254.0L109.1,254.0L109.7,254.0L110.3,254.0L110.9,254.0L111.5,254.0L112.1,254.0L112.7,254.0L113.3,254.0L113.9,254.0L114.5,254.0L114.9,254.0Z" fill="#626262" stroke="#2a2a2a" stroke-width="0.5" stroke-linejoin="round"/>
<line x1="84.00" y1="242.10" x2="105.50" y2="242.10" stroke="#a0a0a0" stroke-width="0.75" />
<line x1="84.00" y1="240.90" x2="84.00" y2="243.30" stroke="#a0a0a0" stroke-width="0.6" />
<line x1="105.50" y1="240.90" x2="105.50" y2="243.30" stroke="#a0a0a0" stroke-width="0.6" />
<text x="94.75" y="240.10" font-size="6.6" text-anchor="middle" font-weight="normal " fill="#1a1a1a" >13</text>
<rect x="118.90" y="224.20" width="39.30" height="29.80" fill="#fff" stroke="#b4b4b4" stroke-width="0.7" />
<line x1="118.90" y1="224.20" x2="118.90" y2="254.00" stroke="#8a8a8a" stroke-width="0.7" />
<line x1="118.90" y1="254.00" x2="158.20" y2="254.00" stroke="#8a8a8a" stroke-width="0.7" />
<line x1="117.60" y1="254.00" x2="118.90" y2="254.00" stroke="#bbb" stroke-width="0.5" />
<line x1="117.60" y1="248.38" x2="118.90" y2="248.38" stroke="#bbb" stroke-width="0.5" />
<line x1="117.60" y1="242.75" x2="118.90" y2="242.75" stroke="#bbb" stroke-width="0.5" />
<line x1="117.60" y1="237.13" x2="118.90" y2="237.13" stroke="#bbb" stroke-width="0.5" />
<line x1="117.60" y1="231.51" x2="118.90" y2="231.51" stroke="#bbb" stroke-width="0.5" />
<line x1="117.60" y1="225.89" x2="118.90" y2="225.89" stroke="#bbb" stroke-width="0.5" />
<line x1="118.90" y1="254.00" x2="118.90" y2="255.30" stroke="#bbb" stroke-width="0.5" />
<line x1="128.72" y1="254.00" x2="128.72" y2="255.30" stroke="#bbb" stroke-width="0.5" />
<line x1="138.55" y1="254.00" x2="138.55" y2="255.30" stroke="#bbb" stroke-width="0.5" />
<line x1="148.38" y1="254.00" x2="148.38" y2="255.30" stroke="#bbb" stroke-width="0.5" />
<line x1="158.20" y1="254.00" x2="158.20" y2="255.30" stroke="#bbb" stroke-width="0.5" />
<path d="M118.9,254.0L118.9,248.4L119.5,247.0L120.1,246.3L120.7,243.5L121.3,241.6L121.9,240.5L122.5,238.5L123.1,237.8L123.7,241.1L124.3,242.0L124.9,243.5L125.5,245.2L126.1,246.0L126.7,247.4L127.3,248.6L127.9,249.4L128.5,250.2L129.1,250.3L129.7,250.6L130.3,250.9L130.9,251.2L131.5,251.5L132.1,251.8L132.7,251.8L133.3,252.0L133.9,252.0L134.5,252.1L135.1,252.2L135.7,252.5L136.3,252.6L136.9,252.7L137.5,252.8L138.1,252.9L138.7,253.0L139.3,253.2L139.9,253.2L140.5,253.3L141.1,253.4L141.7,253.5L142.3,253.5L142.9,253.6L143.5,253.7L144.1,253.7L144.7,253.7L145.3,253.8L145.9,253.8L146.5,253.9L147.1,253.9L147.7,253.9L148.3,254.0L148.9,254.0L149.5,254.0L150.1,254.0L150.7,254.0L151.3,254.0L151.9,254.0L152.5,254.0L153.1,254.0L153.7,254.0L154.3,254.0L154.9,254.0L155.5,254.0L156.1,254.0L156.7,254.0L157.3,254.0L157.9,254.0L158.2,254.0Z" fill="#626262" stroke="#2a2a2a" stroke-width="0.5" stroke-linejoin="round"/>
<line x1="127.20" y1="242.10" x2="149.20" y2="242.10" stroke="#a0a0a0" stroke-width="0.75" />
<line x1="127.20" y1="240.90" x2="127.20" y2="243.30" stroke="#a0a0a0" stroke-width="0.6" />
<line x1="149.20" y1="240.90" x2="149.20" y2="243.30" stroke="#a0a0a0" stroke-width="0.6" />
<text x="137.80" y="240.10" font-size="6.6" text-anchor="middle" font-weight="normal " fill="#1a1a1a" >13</text>
<rect x="162.40" y="224.20" width="39.60" height="29.80" fill="#fff" stroke="#b4b4b4" stroke-width="0.7" />
<line x1="162.40" y1="224.20" x2="162.40" y2="254.00" stroke="#8a8a8a" stroke-width="0.7" />
<line x1="162.40" y1="254.00" x2="202.00" y2="254.00" stroke="#8a8a8a" stroke-width="0.7" />
<line x1="161.10" y1="254.00" x2="162.40" y2="254.00" stroke="#bbb" stroke-width="0.5" />
<line x1="161.10" y1="248.38" x2="162.40" y2="248.38" stroke="#bbb" stroke-width="0.5" />
<line x1="161.10" y1="242.75" x2="162.40" y2="242.75" stroke="#bbb" stroke-width="0.5" />
<line x1="161.10" y1="237.13" x2="162.40" y2="237.13" stroke="#bbb" stroke-width="0.5" />
<line x1="161.10" y1="231.51" x2="162.40" y2="231.51" stroke="#bbb" stroke-width="0.5" />
<line x1="161.10" y1="225.89" x2="162.40" y2="225.89" stroke="#bbb" stroke-width="0.5" />
<line x1="162.40" y1="254.00" x2="162.40" y2="255.30" stroke="#bbb" stroke-width="0.5" />
<line x1="172.30" y1="254.00" x2="172.30" y2="255.30" stroke="#bbb" stroke-width="0.5" />
<line x1="182.20" y1="254.00" x2="182.20" y2="255.30" stroke="#bbb" stroke-width="0.5" />
<line x1="192.10" y1="254.00" x2="192.10" y2="255.30" stroke="#bbb" stroke-width="0.5" />
<line x1="202.00" y1="254.00" x2="202.00" y2="255.30" stroke="#bbb" stroke-width="0.5" />
<path d="M162.4,254.0L162.4,246.0L163.0,245.4L163.6,243.3L164.2,240.9L164.8,240.1L165.4,238.7L166.0,239.2L166.6,241.8L167.2,242.4L167.8,242.7L168.4,244.0L169.0,246.3L169.6,247.3L170.2,247.9L170.8,248.1L171.4,249.5L172.0,250.1L172.6,250.7L173.2,250.9L173.8,250.8L174.4,251.2L175.0,251.2L175.6,251.3L176.2,251.4L176.8,251.7L177.4,251.7L178.0,251.9L178.6,251.9L179.2,252.2L179.8,252.3L180.4,252.4L181.0,252.4L181.6,252.6L182.2,252.7L182.8,252.9L183.4,253.0L184.0,253.1L184.6,253.1L185.2,253.2L185.8,253.3L186.4,253.4L187.0,253.5L187.6,253.6L188.2,253.7L188.8,253.7L189.4,253.8L190.0,253.8L190.6,253.9L191.2,253.9L191.8,254.0L192.4,254.0L193.0,254.0L193.6,254.0L194.2,254.0L194.8,254.0L195.4,254.0L196.0,254.0L196.6,254.0L197.2,254.0L197.8,254.0L198.4,254.0L199.0,254.0L199.6,254.0L200.2,254.0L200.8,254.0L201.4,254.0L202.0,254.0Z" fill="#626262" stroke="#2a2a2a" stroke-width="0.5" stroke-linejoin="round"/>
<line x1="171.00" y1="242.10" x2="192.50" y2="242.10" stroke="#a0a0a0" stroke-width="0.75" />
<line x1="171.00" y1="240.90" x2="171.00" y2="243.30" stroke="#a0a0a0" stroke-width="0.6" />
<line x1="192.50" y1="240.90" x2="192.50" y2="243.30" stroke="#a0a0a0" stroke-width="0.6" />
<text x="181.75" y="240.10" font-size="6.6" text-anchor="middle" font-weight="normal " fill="#1a1a1a" >13</text>
<rect x="205.60" y="224.20" width="40.20" height="29.80" fill="#fff" stroke="#b4b4b4" stroke-width="0.7" />
<line x1="205.60" y1="224.20" x2="205.60" y2="254.00" stroke="#8a8a8a" stroke-width="0.7" />
<line x1="205.60" y1="254.00" x2="245.80" y2="254.00" stroke="#8a8a8a" stroke-width="0.7" />
<line x1="204.30" y1="254.00" x2="205.60" y2="254.00" stroke="#bbb" stroke-width="0.5" />
<line x1="204.30" y1="248.38" x2="205.60" y2="248.38" stroke="#bbb" stroke-width="0.5" />
<line x1="204.30" y1="242.75" x2="205.60" y2="242.75" stroke="#bbb" stroke-width="0.5" />
<line x1="204.30" y1="237.13" x2="205.60" y2="237.13" stroke="#bbb" stroke-width="0.5" />
<line x1="204.30" y1="231.51" x2="205.60" y2="231.51" stroke="#bbb" stroke-width="0.5" />
<line x1="204.30" y1="225.89" x2="205.60" y2="225.89" stroke="#bbb" stroke-width="0.5" />
<line x1="205.60" y1="254.00" x2="205.60" y2="255.30" stroke="#bbb" stroke-width="0.5" />
<line x1="215.65" y1="254.00" x2="215.65" y2="255.30" stroke="#bbb" stroke-width="0.5" />
<line x1="225.70" y1="254.00" x2="225.70" y2="255.30" stroke="#bbb" stroke-width="0.5" />
<line x1="235.75" y1="254.00" x2="235.75" y2="255.30" stroke="#bbb" stroke-width="0.5" />
<line x1="245.80" y1="254.00" x2="245.80" y2="255.30" stroke="#bbb" stroke-width="0.5" />
<path d="M205.6,254.0L205.6,253.4L206.2,253.1L206.8,252.9L207.4,252.8L208.0,252.6L208.6,247.8L209.2,242.1L209.8,238.4L210.4,234.5L211.0,233.2L211.6,238.6L212.2,241.0L212.8,245.3L213.4,246.4L214.0,247.7L214.6,249.5L215.2,250.0L215.8,250.5L216.4,250.8L217.0,251.1L217.6,251.4L218.2,251.5L218.8,251.7L219.4,251.9L220.0,252.0L220.6,251.7L221.2,251.8L221.8,251.7L222.4,251.9L223.0,252.1L223.6,252.6L224.2,252.6L224.8,252.6L225.4,252.8L226.0,252.7L226.6,252.9L227.2,252.9L227.8,253.1L228.4,253.1L229.0,253.2L229.6,253.3L230.2,253.3L230.8,253.4L231.4,253.5L232.0,253.6L232.6,253.6L233.2,253.7L233.8,253.8L234.4,253.9L235.0,253.9L235.6,254.0L236.2,254.0L236.8,254.0L237.4,254.0L238.0,254.0L238.6,254.0L239.2,254.0L239.8,254.0L240.4,254.0L241.0,254.0L241.6,254.0L242.2,254.0L242.8,254.0L243.4,254.0L244.0,254.0L244.6,254.0L245.2,254.0L245.8,254.0Z" fill="#626262" stroke="#2a2a2a" stroke-width="0.5" stroke-linejoin="round"/>
<line x1="214.80" y1="242.10" x2="237.10" y2="242.10" stroke="#a0a0a0" stroke-width="0.75" />
<line x1="214.80" y1="240.90" x2="214.80" y2="243.30" stroke="#a0a0a0" stroke-width="0.6" />
<line x1="237.10" y1="240.90" x2="237.10" y2="243.30" stroke="#a0a0a0" stroke-width="0.6" />
<text x="224.75" y="240.10" font-size="6.6" text-anchor="middle" font-weight="normal " fill="#1a1a1a" >10</text>
<rect x="31.20" y="259.20" width="39.80" height="29.80" fill="#fff" stroke="#b4b4b4" stroke-width="0.7" />
<line x1="31.20" y1="259.20" x2="31.20" y2="289.00" stroke="#8a8a8a" stroke-width="0.7" />
<line x1="31.20" y1="289.00" x2="71.00" y2="289.00" stroke="#8a8a8a" stroke-width="0.7" />
<line x1="29.90" y1="289.00" x2="31.20" y2="289.00" stroke="#bbb" stroke-width="0.5" />
<line x1="29.90" y1="283.38" x2="31.20" y2="283.38" stroke="#bbb" stroke-width="0.5" />
<line x1="29.90" y1="277.75" x2="31.20" y2="277.75" stroke="#bbb" stroke-width="0.5" />
<line x1="29.90" y1="272.13" x2="31.20" y2="272.13" stroke="#bbb" stroke-width="0.5" />
<line x1="29.90" y1="266.51" x2="31.20" y2="266.51" stroke="#bbb" stroke-width="0.5" />
<line x1="29.90" y1="260.89" x2="31.20" y2="260.89" stroke="#bbb" stroke-width="0.5" />
<line x1="31.20" y1="289.00" x2="31.20" y2="290.30" stroke="#bbb" stroke-width="0.5" />
<line x1="41.15" y1="289.00" x2="41.15" y2="290.30" stroke="#bbb" stroke-width="0.5" />
<line x1="51.10" y1="289.00" x2="51.10" y2="290.30" stroke="#bbb" stroke-width="0.5" />
<line x1="61.05" y1="289.00" x2="61.05" y2="290.30" stroke="#bbb" stroke-width="0.5" />
<line x1="71.00" y1="289.00" x2="71.00" y2="290.30" stroke="#bbb" stroke-width="0.5" />
<path d="M31.2,289.0L31.2,282.6L31.8,282.3L32.4,280.3L33.0,278.8L33.6,276.0L34.2,273.2L34.8,268.9L35.4,267.1L36.0,271.1L36.6,276.0L37.2,280.7L37.8,281.0L38.4,282.3L39.0,284.4L39.6,284.8L40.2,285.4L40.8,286.0L41.4,286.3L42.0,286.3L42.6,286.5L43.2,286.6L43.8,286.6L44.4,286.3L45.0,286.1L45.6,285.9L46.2,286.4L46.8,286.8L47.4,287.1L48.0,287.2L48.6,287.5L49.2,287.5L49.8,287.7L50.4,287.7L51.0,287.7L51.6,287.8L52.2,287.9L52.8,288.0L53.4,288.0L54.0,287.9L54.6,287.9L55.2,288.0L55.8,288.2L56.4,288.2L57.0,288.3L57.6,288.4L58.2,288.5L58.8,288.6L59.4,288.7L60.0,288.8L60.6,288.9L61.2,289.0L61.8,289.0L62.4,289.0L63.0,289.0L63.6,289.0L64.2,289.0L64.8,289.0L65.4,289.0L66.0,289.0L66.6,289.0L67.2,289.0L67.8,289.0L68.4,289.0L69.0,289.0L69.6,289.0L70.2,289.0L70.8,289.0L71.0,289.0Z" fill="#626262" stroke="#2a2a2a" stroke-width="0.5" stroke-linejoin="round"/>
<line x1="40.40" y1="277.10" x2="61.90" y2="277.10" stroke="#a0a0a0" stroke-width="0.75" />
<line x1="40.40" y1="275.90" x2="40.40" y2="278.30" stroke="#a0a0a0" stroke-width="0.6" />
<line x1="61.90" y1="275.90" x2="61.90" y2="278.30" stroke="#a0a0a0" stroke-width="0.6" />
<text x="51.50" y="275.10" font-size="6.6" text-anchor="middle" font-weight="normal " fill="#1a1a1a" >7</text>
<rect x="74.90" y="259.20" width="40.00" height="29.80" fill="#fff" stroke="#b4b4b4" stroke-width="0.7" />
<line x1="74.90" y1="259.20" x2="74.90" y2="289.00" stroke="#8a8a8a" stroke-width="0.7" />
<line x1="74.90" y1="289.00" x2="114.90" y2="289.00" stroke="#8a8a8a" stroke-width="0.7" />
<line x1="73.60" y1="289.00" x2="74.90" y2="289.00" stroke="#bbb" stroke-width="0.5" />
<line x1="73.60" y1="283.38" x2="74.90" y2="283.38" stroke="#bbb" stroke-width="0.5" />
<line x1="73.60" y1="277.75" x2="74.90" y2="277.75" stroke="#bbb" stroke-width="0.5" />
<line x1="73.60" y1="272.13" x2="74.90" y2="272.13" stroke="#bbb" stroke-width="0.5" />
<line x1="73.60" y1="266.51" x2="74.90" y2="266.51" stroke="#bbb" stroke-width="0.5" />
<line x1="73.60" y1="260.89" x2="74.90" y2="260.89" stroke="#bbb" stroke-width="0.5" />
<line x1="74.90" y1="289.00" x2="74.90" y2="290.30" stroke="#bbb" stroke-width="0.5" />
<line x1="84.90" y1="289.00" x2="84.90" y2="290.30" stroke="#bbb" stroke-width="0.5" />
<line x1="94.90" y1="289.00" x2="94.90" y2="290.30" stroke="#bbb" stroke-width="0.5" />
<line x1="104.90" y1="289.00" x2="104.90" y2="290.30" stroke="#bbb" stroke-width="0.5" />
<line x1="114.90" y1="289.00" x2="114.90" y2="290.30" stroke="#bbb" stroke-width="0.5" />
<path d="M74.9,289.0L74.9,279.6L75.5,279.9L76.1,278.2L76.7,277.7L77.3,276.1L77.9,273.8L78.5,272.7L79.1,271.3L79.7,273.4L80.3,276.1L80.9,277.4L81.5,279.8L82.1,281.0L82.7,282.3L83.3,283.6L83.9,284.4L84.5,284.6L85.1,285.2L85.7,285.3L86.3,285.8L86.9,285.9L87.5,286.3L88.1,286.3L88.7,286.6L89.3,286.6L89.9,286.8L90.5,287.2L91.1,287.4L91.7,287.3L92.3,287.5L92.9,287.6L93.5,287.5L94.1,287.6L94.7,287.9L95.3,288.0L95.9,287.9L96.5,288.0L97.1,288.1L97.7,288.2L98.3,288.3L98.9,288.4L99.5,288.5L100.1,288.5L100.7,288.6L101.3,288.6L101.9,288.7L102.5,288.8L103.1,288.8L103.7,288.9L104.3,288.9L104.9,289.0L105.5,289.0L106.1,289.0L106.7,289.0L107.3,289.0L107.9,289.0L108.5,289.0L109.1,289.0L109.7,289.0L110.3,289.0L110.9,289.0L111.5,289.0L112.1,289.0L112.7,289.0L113.3,289.0L113.9,289.0L114.5,289.0L114.9,289.0Z" fill="#626262" stroke="#2a2a2a" stroke-width="0.5" stroke-linejoin="round"/>
<line x1="84.00" y1="277.10" x2="105.50" y2="277.10" stroke="#a0a0a0" stroke-width="0.75" />
<line x1="84.00" y1="275.90" x2="84.00" y2="278.30" stroke="#a0a0a0" stroke-width="0.6" />
<line x1="105.50" y1="275.90" x2="105.50" y2="278.30" stroke="#a0a0a0" stroke-width="0.6" />
<text x="94.75" y="275.10" font-size="6.6" text-anchor="middle" font-weight="normal " fill="#1a1a1a" >11</text>
<rect x="118.90" y="259.20" width="39.30" height="29.80" fill="#fff" stroke="#b4b4b4" stroke-width="0.7" />
<line x1="118.90" y1="259.20" x2="118.90" y2="289.00" stroke="#8a8a8a" stroke-width="0.7" />
<line x1="118.90" y1="289.00" x2="158.20" y2="289.00" stroke="#8a8a8a" stroke-width="0.7" />
<line x1="117.60" y1="289.00" x2="118.90" y2="289.00" stroke="#bbb" stroke-width="0.5" />
<line x1="117.60" y1="283.38" x2="118.90" y2="283.38" stroke="#bbb" stroke-width="0.5" />
<line x1="117.60" y1="277.75" x2="118.90" y2="277.75" stroke="#bbb" stroke-width="0.5" />
<line x1="117.60" y1="272.13" x2="118.90" y2="272.13" stroke="#bbb" stroke-width="0.5" />
<line x1="117.60" y1="266.51" x2="118.90" y2="266.51" stroke="#bbb" stroke-width="0.5" />
<line x1="117.60" y1="260.89" x2="118.90" y2="260.89" stroke="#bbb" stroke-width="0.5" />
<line x1="118.90" y1="289.00" x2="118.90" y2="290.30" stroke="#bbb" stroke-width="0.5" />
<line x1="128.72" y1="289.00" x2="128.72" y2="290.30" stroke="#bbb" stroke-width="0.5" />
<line x1="138.55" y1="289.00" x2="138.55" y2="290.30" stroke="#bbb" stroke-width="0.5" />
<line x1="148.38" y1="289.00" x2="148.38" y2="290.30" stroke="#bbb" stroke-width="0.5" />
<line x1="158.20" y1="289.00" x2="158.20" y2="290.30" stroke="#bbb" stroke-width="0.5" />
<path d="M118.9,289.0L118.9,283.1L119.5,282.3L120.1,281.7L120.7,280.3L121.3,277.8L121.9,276.0L122.5,275.8L123.1,274.3L123.7,273.2L124.3,274.8L124.9,275.5L125.5,278.6L126.1,281.1L126.7,282.4L127.3,283.6L127.9,284.5L128.5,284.5L129.1,285.3L129.7,285.5L130.3,285.8L130.9,286.0L131.5,286.3L132.1,286.5L132.7,286.3L133.3,286.6L133.9,286.6L134.5,286.7L135.1,286.9L135.7,287.0L136.3,287.1L136.9,287.5L137.5,287.6L138.1,287.6L138.7,287.8L139.3,288.0L139.9,287.9L140.5,288.0L141.1,288.1L141.7,288.2L142.3,288.4L142.9,288.4L143.5,288.5L144.1,288.5L144.7,288.6L145.3,288.6L145.9,288.7L146.5,288.8L147.1,288.8L147.7,288.9L148.3,288.9L148.9,289.0L149.5,289.0L150.1,289.0L150.7,289.0L151.3,289.0L151.9,289.0L152.5,289.0L153.1,289.0L153.7,289.0L154.3,289.0L154.9,289.0L155.5,289.0L156.1,289.0L156.7,289.0L157.3,289.0L157.9,289.0L158.2,289.0Z" fill="#626262" stroke="#2a2a2a" stroke-width="0.5" stroke-linejoin="round"/>
<line x1="127.20" y1="277.10" x2="149.20" y2="277.10" stroke="#a0a0a0" stroke-width="0.75" />
<line x1="127.20" y1="275.90" x2="127.20" y2="278.30" stroke="#a0a0a0" stroke-width="0.6" />
<line x1="149.20" y1="275.90" x2="149.20" y2="278.30" stroke="#a0a0a0" stroke-width="0.6" />
<text x="137.80" y="275.10" font-size="6.6" text-anchor="middle" font-weight="normal " fill="#1a1a1a" >13</text>
<rect x="162.40" y="259.20" width="39.60" height="29.80" fill="#fff" stroke="#b4b4b4" stroke-width="0.7" />
<line x1="162.40" y1="259.20" x2="162.40" y2="289.00" stroke="#8a8a8a" stroke-width="0.7" />
<line x1="162.40" y1="289.00" x2="202.00" y2="289.00" stroke="#8a8a8a" stroke-width="0.7" />
<line x1="161.10" y1="289.00" x2="162.40" y2="289.00" stroke="#bbb" stroke-width="0.5" />
<line x1="161.10" y1="283.38" x2="162.40" y2="283.38" stroke="#bbb" stroke-width="0.5" />
<line x1="161.10" y1="277.75" x2="162.40" y2="277.75" stroke="#bbb" stroke-width="0.5" />
<line x1="161.10" y1="272.13" x2="162.40" y2="272.13" stroke="#bbb" stroke-width="0.5" />
<line x1="161.10" y1="266.51" x2="162.40" y2="266.51" stroke="#bbb" stroke-width="0.5" />
<line x1="161.10" y1="260.89" x2="162.40" y2="260.89" stroke="#bbb" stroke-width="0.5" />
<line x1="162.40" y1="289.00" x2="162.40" y2="290.30" stroke="#bbb" stroke-width="0.5" />
<line x1="172.30" y1="289.00" x2="172.30" y2="290.30" stroke="#bbb" stroke-width="0.5" />
<line x1="182.20" y1="289.00" x2="182.20" y2="290.30" stroke="#bbb" stroke-width="0.5" />
<line x1="192.10" y1="289.00" x2="192.10" y2="290.30" stroke="#bbb" stroke-width="0.5" />
<line x1="202.00" y1="289.00" x2="202.00" y2="290.30" stroke="#bbb" stroke-width="0.5" />
<path d="M162.4,289.0L162.4,279.4L163.0,276.1L163.6,274.7L164.2,275.2L164.8,274.7L165.4,276.2L166.0,276.2L166.6,277.7L167.2,279.9L167.8,280.5L168.4,281.6L169.0,282.7L169.6,283.3L170.2,283.7L170.8,284.1L171.4,284.2L172.0,284.7L172.6,285.4L173.2,285.5L173.8,285.5L174.4,285.9L175.0,286.1L175.6,286.2L176.2,286.3L176.8,286.7L177.4,286.7L178.0,286.9L178.6,287.1L179.2,287.0L179.8,287.4L180.4,287.4L181.0,287.4L181.6,287.5L182.2,287.8L182.8,287.8L183.4,287.9L184.0,288.1L184.6,288.1L185.2,288.3L185.8,288.3L186.4,288.4L187.0,288.5L187.6,288.5L188.2,288.6L188.8,288.6L189.4,288.7L190.0,288.8L190.6,288.8L191.2,288.9L191.8,288.9L192.4,289.0L193.0,289.0L193.6,289.0L194.2,289.0L194.8,289.0L195.4,289.0L196.0,289.0L196.6,289.0L197.2,289.0L197.8,289.0L198.4,289.0L199.0,289.0L199.6,289.0L200.2,289.0L200.8,289.0L201.4,289.0L202.0,289.0Z" fill="#626262" stroke="#2a2a2a" stroke-width="0.5" stroke-linejoin="round"/>
<line x1="171.00" y1="277.10" x2="192.50" y2="277.10" stroke="#a0a0a0" stroke-width="0.75" />
<line x1="171.00" y1="275.90" x2="171.00" y2="278.30" stroke="#a0a0a0" stroke-width="0.6" />
<line x1="192.50" y1="275.90" x2="192.50" y2="278.30" stroke="#a0a0a0" stroke-width="0.6" />
<text x="181.75" y="275.10" font-size="6.6" text-anchor="middle" font-weight="normal " fill="#1a1a1a" >10</text>
<rect x="205.60" y="259.20" width="40.20" height="29.80" fill="#fff" stroke="#b4b4b4" stroke-width="0.7" />
<line x1="205.60" y1="259.20" x2="205.60" y2="289.00" stroke="#8a8a8a" stroke-width="0.7" />
<line x1="205.60" y1="289.00" x2="245.80" y2="289.00" stroke="#8a8a8a" stroke-width="0.7" />
<line x1="204.30" y1="289.00" x2="205.60" y2="289.00" stroke="#bbb" stroke-width="0.5" />
<line x1="204.30" y1="283.38" x2="205.60" y2="283.38" stroke="#bbb" stroke-width="0.5" />
<line x1="204.30" y1="277.75" x2="205.60" y2="277.75" stroke="#bbb" stroke-width="0.5" />
<line x1="204.30" y1="272.13" x2="205.60" y2="272.13" stroke="#bbb" stroke-width="0.5" />
<line x1="204.30" y1="266.51" x2="205.60" y2="266.51" stroke="#bbb" stroke-width="0.5" />
<line x1="204.30" y1="260.89" x2="205.60" y2="260.89" stroke="#bbb" stroke-width="0.5" />
<line x1="205.60" y1="289.00" x2="205.60" y2="290.30" stroke="#bbb" stroke-width="0.5" />
<line x1="215.65" y1="289.00" x2="215.65" y2="290.30" stroke="#bbb" stroke-width="0.5" />
<line x1="225.70" y1="289.00" x2="225.70" y2="290.30" stroke="#bbb" stroke-width="0.5" />
<line x1="235.75" y1="289.00" x2="235.75" y2="290.30" stroke="#bbb" stroke-width="0.5" />
<line x1="245.80" y1="289.00" x2="245.80" y2="290.30" stroke="#bbb" stroke-width="0.5" />
<path d="M205.6,289.0L205.6,288.4L206.2,288.2L206.8,287.9L207.4,287.8L208.0,287.5L208.6,284.1L209.2,278.8L209.8,276.1L210.4,273.9L211.0,274.5L211.6,274.3L212.2,276.7L212.8,280.4L213.4,282.4L214.0,282.1L214.6,283.0L215.2,284.1L215.8,284.9L216.4,284.9L217.0,285.2L217.6,286.0L218.2,286.4L218.8,286.5L219.4,286.6L220.0,286.7L220.6,286.9L221.2,287.1L221.8,287.0L222.4,287.1L223.0,287.2L223.6,287.4L224.2,287.5L224.8,287.4L225.4,287.5L226.0,287.8L226.6,287.9L227.2,288.0L227.8,288.0L228.4,288.1L229.0,288.2L229.6,288.3L230.2,288.3L230.8,288.4L231.4,288.5L232.0,288.6L232.6,288.6L233.2,288.7L233.8,288.8L234.4,288.9L235.0,288.9L235.6,289.0L236.2,289.0L236.8,289.0L237.4,289.0L238.0,289.0L238.6,289.0L239.2,289.0L239.8,289.0L240.4,289.0L241.0,289.0L241.6,289.0L242.2,289.0L242.8,289.0L243.4,289.0L244.0,289.0L244.6,289.0L245.2,289.0L245.8,289.0Z" fill="#626262" stroke="#2a2a2a" stroke-width="0.5" stroke-linejoin="round"/>
<line x1="214.80" y1="277.10" x2="237.10" y2="277.10" stroke="#a0a0a0" stroke-width="0.75" />
<line x1="214.80" y1="275.90" x2="214.80" y2="278.30" stroke="#a0a0a0" stroke-width="0.6" />
<line x1="237.10" y1="275.90" x2="237.10" y2="278.30" stroke="#a0a0a0" stroke-width="0.6" />
<text x="224.75" y="275.10" font-size="6.6" text-anchor="middle" font-weight="normal " fill="#1a1a1a" >12</text>
<rect x="31.20" y="294.30" width="39.80" height="29.80" fill="#fff" stroke="#b4b4b4" stroke-width="0.7" />
<line x1="31.20" y1="294.30" x2="31.20" y2="324.10" stroke="#8a8a8a" stroke-width="0.7" />
<line x1="31.20" y1="324.10" x2="71.00" y2="324.10" stroke="#8a8a8a" stroke-width="0.7" />
<line x1="29.90" y1="324.10" x2="31.20" y2="324.10" stroke="#bbb" stroke-width="0.5" />
<line x1="29.90" y1="318.48" x2="31.20" y2="318.48" stroke="#bbb" stroke-width="0.5" />
<line x1="29.90" y1="312.85" x2="31.20" y2="312.85" stroke="#bbb" stroke-width="0.5" />
<line x1="29.90" y1="307.23" x2="31.20" y2="307.23" stroke="#bbb" stroke-width="0.5" />
<line x1="29.90" y1="301.61" x2="31.20" y2="301.61" stroke="#bbb" stroke-width="0.5" />
<line x1="29.90" y1="295.99" x2="31.20" y2="295.99" stroke="#bbb" stroke-width="0.5" />
<line x1="31.20" y1="324.10" x2="31.20" y2="325.40" stroke="#bbb" stroke-width="0.5" />
<line x1="41.15" y1="324.10" x2="41.15" y2="325.40" stroke="#bbb" stroke-width="0.5" />
<line x1="51.10" y1="324.10" x2="51.10" y2="325.40" stroke="#bbb" stroke-width="0.5" />
<line x1="61.05" y1="324.10" x2="61.05" y2="325.40" stroke="#bbb" stroke-width="0.5" />
<line x1="71.00" y1="324.10" x2="71.00" y2="325.40" stroke="#bbb" stroke-width="0.5" />
<path d="M31.2,324.1L31.2,323.5L31.8,322.9L32.4,321.9L33.0,321.3L33.6,316.8L34.2,309.7L34.8,308.5L35.4,303.2L36.0,308.4L36.6,312.0L37.2,316.7L37.8,319.5L38.4,321.0L39.0,321.3L39.6,321.6L40.2,321.9L40.8,322.0L41.4,322.1L42.0,321.8L42.6,321.6L43.2,321.6L43.8,321.5L44.4,321.1L45.0,321.1L45.6,321.5L46.2,321.4L46.8,321.9L47.4,322.1L48.0,322.3L48.6,322.6L49.2,322.9L49.8,323.1L50.4,323.3L51.0,323.4L51.6,323.5L52.2,323.6L52.8,323.6L53.4,323.6L54.0,323.7L54.6,323.7L55.2,323.7L55.8,323.7L56.4,323.8L57.0,323.8L57.6,323.8L58.2,323.9L58.8,323.9L59.4,324.0L60.0,324.0L60.6,324.1L61.2,324.1L61.8,324.1L62.4,324.1L63.0,324.1L63.6,324.1L64.2,324.1L64.8,324.1L65.4,324.1L66.0,324.1L66.6,324.1L67.2,324.1L67.8,324.1L68.4,324.1L69.0,324.1L69.6,324.1L70.2,324.1L70.8,324.1L71.0,324.1Z" fill="#626262" stroke="#2a2a2a" stroke-width="0.5" stroke-linejoin="round"/>
<line x1="40.40" y1="312.20" x2="61.90" y2="312.20" stroke="#a0a0a0" stroke-width="0.75" />
<line x1="40.40" y1="311.00" x2="40.40" y2="313.40" stroke="#a0a0a0" stroke-width="0.6" />
<line x1="61.90" y1="311.00" x2="61.90" y2="313.40" stroke="#a0a0a0" stroke-width="0.6" />
<text x="51.50" y="310.20" font-size="6.6" text-anchor="middle" font-weight="normal " fill="#1a1a1a" >11</text>
<rect x="74.90" y="294.30" width="40.00" height="29.80" fill="#fff" stroke="#b4b4b4" stroke-width="0.7" />
<line x1="74.90" y1="294.30" x2="74.90" y2="324.10" stroke="#8a8a8a" stroke-width="0.7" />
<line x1="74.90" y1="324.10" x2="114.90" y2="324.10" stroke="#8a8a8a" stroke-width="0.7" />
<line x1="73.60" y1="324.10" x2="74.90" y2="324.10" stroke="#bbb" stroke-width="0.5" />
<line x1="73.60" y1="318.48" x2="74.90" y2="318.48" stroke="#bbb" stroke-width="0.5" />
<line x1="73.60" y1="312.85" x2="74.90" y2="312.85" stroke="#bbb" stroke-width="0.5" />
<line x1="73.60" y1="307.23" x2="74.90" y2="307.23" stroke="#bbb" stroke-width="0.5" />
<line x1="73.60" y1="301.61" x2="74.90" y2="301.61" stroke="#bbb" stroke-width="0.5" />
<line x1="73.60" y1="295.99" x2="74.90" y2="295.99" stroke="#bbb" stroke-width="0.5" />
<line x1="74.90" y1="324.10" x2="74.90" y2="325.40" stroke="#bbb" stroke-width="0.5" />
<line x1="84.90" y1="324.10" x2="84.90" y2="325.40" stroke="#bbb" stroke-width="0.5" />
<line x1="94.90" y1="324.10" x2="94.90" y2="325.40" stroke="#bbb" stroke-width="0.5" />
<line x1="104.90" y1="324.10" x2="104.90" y2="325.40" stroke="#bbb" stroke-width="0.5" />
<line x1="114.90" y1="324.10" x2="114.90" y2="325.40" stroke="#bbb" stroke-width="0.5" />
<path d="M74.9,324.1L74.9,322.7L75.5,318.1L76.1,314.3L76.7,310.0L77.3,308.6L77.9,307.4L78.5,307.0L79.1,309.4L79.7,309.8L80.3,313.4L80.9,314.9L81.5,316.4L82.1,318.2L82.7,319.3L83.3,319.6L83.9,320.4L84.5,320.5L85.1,320.5L85.7,320.9L86.3,321.2L86.9,321.4L87.5,321.5L88.1,321.6L88.7,321.8L89.3,321.7L89.9,322.0L90.5,322.2L91.1,322.5L91.7,322.6L92.3,322.7L92.9,322.9L93.5,323.0L94.1,323.1L94.7,323.1L95.3,323.2L95.9,323.4L96.5,323.4L97.1,323.4L97.7,323.6L98.3,323.6L98.9,323.7L99.5,323.8L100.1,323.8L100.7,323.8L101.3,323.9L101.9,323.9L102.5,324.0L103.1,324.0L103.7,324.0L104.3,324.1L104.9,324.1L105.5,324.1L106.1,324.1L106.7,324.1L107.3,324.1L107.9,324.1L108.5,324.1L109.1,324.1L109.7,324.1L110.3,324.1L110.9,324.1L111.5,324.1L112.1,324.1L112.7,324.1L113.3,324.1L113.9,324.1L114.5,324.1L114.9,324.1Z" fill="#626262" stroke="#2a2a2a" stroke-width="0.5" stroke-linejoin="round"/>
<line x1="84.00" y1="312.20" x2="105.50" y2="312.20" stroke="#a0a0a0" stroke-width="0.75" />
<line x1="84.00" y1="311.00" x2="84.00" y2="313.40" stroke="#a0a0a0" stroke-width="0.6" />
<line x1="105.50" y1="311.00" x2="105.50" y2="313.40" stroke="#a0a0a0" stroke-width="0.6" />
<text x="94.75" y="310.20" font-size="6.6" text-anchor="middle" font-weight="normal " fill="#1a1a1a" >13</text>
<rect x="118.90" y="294.30" width="39.30" height="29.80" fill="#fff" stroke="#b4b4b4" stroke-width="0.7" />
<line x1="118.90" y1="294.30" x2="118.90" y2="324.10" stroke="#8a8a8a" stroke-width="0.7" />
<line x1="118.90" y1="324.10" x2="158.20" y2="324.10" stroke="#8a8a8a" stroke-width="0.7" />
<line x1="117.60" y1="324.10" x2="118.90" y2="324.10" stroke="#bbb" stroke-width="0.5" />
<line x1="117.60" y1="318.48" x2="118.90" y2="318.48" stroke="#bbb" stroke-width="0.5" />
<line x1="117.60" y1="312.85" x2="118.90" y2="312.85" stroke="#bbb" stroke-width="0.5" />
<line x1="117.60" y1="307.23" x2="118.90" y2="307.23" stroke="#bbb" stroke-width="0.5" />
<line x1="117.60" y1="301.61" x2="118.90" y2="301.61" stroke="#bbb" stroke-width="0.5" />
<line x1="117.60" y1="295.99" x2="118.90" y2="295.99" stroke="#bbb" stroke-width="0.5" />
<line x1="118.90" y1="324.10" x2="118.90" y2="325.40" stroke="#bbb" stroke-width="0.5" />
<line x1="128.72" y1="324.10" x2="128.72" y2="325.40" stroke="#bbb" stroke-width="0.5" />
<line x1="138.55" y1="324.10" x2="138.55" y2="325.40" stroke="#bbb" stroke-width="0.5" />
<line x1="148.38" y1="324.10" x2="148.38" y2="325.40" stroke="#bbb" stroke-width="0.5" />
<line x1="158.20" y1="324.10" x2="158.20" y2="325.40" stroke="#bbb" stroke-width="0.5" />
<path d="M118.9,324.1L118.9,321.1L119.5,318.4L120.1,315.9L120.7,311.9L121.3,309.5L121.9,307.1L122.5,308.6L123.1,310.0L123.7,312.3L124.3,314.7L124.9,316.7L125.5,317.4L126.1,318.0L126.7,319.3L127.3,320.0L127.9,320.3L128.5,321.0L129.1,321.2L129.7,321.1L130.3,321.3L130.9,321.5L131.5,321.1L132.1,321.2L132.7,321.2L133.3,321.5L133.9,321.7L134.5,322.1L135.1,322.3L135.7,322.4L136.3,322.7L136.9,322.9L137.5,322.9L138.1,323.1L138.7,323.1L139.3,323.2L139.9,323.4L140.5,323.4L141.1,323.5L141.7,323.6L142.3,323.6L142.9,323.7L143.5,323.7L144.1,323.7L144.7,323.8L145.3,323.8L145.9,323.9L146.5,323.9L147.1,324.0L147.7,324.0L148.3,324.1L148.9,324.1L149.5,324.1L150.1,324.1L150.7,324.1L151.3,324.1L151.9,324.1L152.5,324.1L153.1,324.1L153.7,324.1L154.3,324.1L154.9,324.1L155.5,324.1L156.1,324.1L156.7,324.1L157.3,324.1L157.9,324.1L158.2,324.1Z" fill="#626262" stroke="#2a2a2a" stroke-width="0.5" stroke-linejoin="round"/>
<line x1="127.20" y1="312.20" x2="149.20" y2="312.20" stroke="#a0a0a0" stroke-width="0.75" />
<line x1="127.20" y1="311.00" x2="127.20" y2="313.40" stroke="#a0a0a0" stroke-width="0.6" />
<line x1="149.20" y1="311.00" x2="149.20" y2="313.40" stroke="#a0a0a0" stroke-width="0.6" />
<text x="137.80" y="310.20" font-size="6.6" text-anchor="middle" font-weight="normal " fill="#1a1a1a" >15</text>
<rect x="162.40" y="294.30" width="39.60" height="29.80" fill="#fff" stroke="#b4b4b4" stroke-width="0.7" />
<line x1="162.40" y1="294.30" x2="162.40" y2="324.10" stroke="#8a8a8a" stroke-width="0.7" />
<line x1="162.40" y1="324.10" x2="202.00" y2="324.10" stroke="#8a8a8a" stroke-width="0.7" />
<line x1="161.10" y1="324.10" x2="162.40" y2="324.10" stroke="#bbb" stroke-width="0.5" />
<line x1="161.10" y1="318.48" x2="162.40" y2="318.48" stroke="#bbb" stroke-width="0.5" />
<line x1="161.10" y1="312.85" x2="162.40" y2="312.85" stroke="#bbb" stroke-width="0.5" />
<line x1="161.10" y1="307.23" x2="162.40" y2="307.23" stroke="#bbb" stroke-width="0.5" />
<line x1="161.10" y1="301.61" x2="162.40" y2="301.61" stroke="#bbb" stroke-width="0.5" />
<line x1="161.10" y1="295.99" x2="162.40" y2="295.99" stroke="#bbb" stroke-width="0.5" />
<line x1="162.40" y1="324.10" x2="162.40" y2="325.40" stroke="#bbb" stroke-width="0.5" />
<line x1="172.30" y1="324.10" x2="172.30" y2="325.40" stroke="#bbb" stroke-width="0.5" />
<line x1="182.20" y1="324.10" x2="182.20" y2="325.40" stroke="#bbb" stroke-width="0.5" />
<line x1="192.10" y1="324.10" x2="192.10" y2="325.40" stroke="#bbb" stroke-width="0.5" />
<line x1="202.00" y1="324.10" x2="202.00" y2="325.40" stroke="#bbb" stroke-width="0.5" />
<path d="M162.4,324.1L162.4,318.6L163.0,314.9L163.6,311.1L164.2,309.9L164.8,307.1L165.4,310.6L166.0,310.8L166.6,312.4L167.2,312.7L167.8,315.0L168.4,315.8L169.0,317.0L169.6,318.0L170.2,318.8L170.8,319.1L171.4,319.9L172.0,319.9L172.6,320.5L173.2,320.6L173.8,320.8L174.4,320.9L175.0,321.4L175.6,321.5L176.2,321.4L176.8,321.8L177.4,321.6L178.0,321.9L178.6,322.1L179.2,322.2L179.8,322.4L180.4,322.6L181.0,322.7L181.6,322.9L182.2,323.0L182.8,323.1L183.4,323.2L184.0,323.4L184.6,323.5L185.2,323.5L185.8,323.6L186.4,323.7L187.0,323.7L187.6,323.7L188.2,323.8L188.8,323.8L189.4,323.9L190.0,323.9L190.6,324.0L191.2,324.0L191.8,324.1L192.4,324.1L193.0,324.1L193.6,324.1L194.2,324.1L194.8,324.1L195.4,324.1L196.0,324.1L196.6,324.1L197.2,324.1L197.8,324.1L198.4,324.1L199.0,324.1L199.6,324.1L200.2,324.1L200.8,324.1L201.4,324.1L202.0,324.1Z" fill="#626262" stroke="#2a2a2a" stroke-width="0.5" stroke-linejoin="round"/>
<line x1="171.00" y1="312.20" x2="192.50" y2="312.20" stroke="#a0a0a0" stroke-width="0.75" />
<line x1="171.00" y1="311.00" x2="171.00" y2="313.40" stroke="#a0a0a0" stroke-width="0.6" />
<line x1="192.50" y1="311.00" x2="192.50" y2="313.40" stroke="#a0a0a0" stroke-width="0.6" />
<text x="181.75" y="310.20" font-size="6.6" text-anchor="middle" font-weight="normal " fill="#1a1a1a" >15</text>
<rect x="205.60" y="294.30" width="40.20" height="29.80" fill="#fff" stroke="#b4b4b4" stroke-width="0.7" />
<line x1="205.60" y1="294.30" x2="205.60" y2="324.10" stroke="#8a8a8a" stroke-width="0.7" />
<line x1="205.60" y1="324.10" x2="245.80" y2="324.10" stroke="#8a8a8a" stroke-width="0.7" />
<line x1="204.30" y1="324.10" x2="205.60" y2="324.10" stroke="#bbb" stroke-width="0.5" />
<line x1="204.30" y1="318.48" x2="205.60" y2="318.48" stroke="#bbb" stroke-width="0.5" />
<line x1="204.30" y1="312.85" x2="205.60" y2="312.85" stroke="#bbb" stroke-width="0.5" />
<line x1="204.30" y1="307.23" x2="205.60" y2="307.23" stroke="#bbb" stroke-width="0.5" />
<line x1="204.30" y1="301.61" x2="205.60" y2="301.61" stroke="#bbb" stroke-width="0.5" />
<line x1="204.30" y1="295.99" x2="205.60" y2="295.99" stroke="#bbb" stroke-width="0.5" />
<line x1="205.60" y1="324.10" x2="205.60" y2="325.40" stroke="#bbb" stroke-width="0.5" />
<line x1="215.65" y1="324.10" x2="215.65" y2="325.40" stroke="#bbb" stroke-width="0.5" />
<line x1="225.70" y1="324.10" x2="225.70" y2="325.40" stroke="#bbb" stroke-width="0.5" />
<line x1="235.75" y1="324.10" x2="235.75" y2="325.40" stroke="#bbb" stroke-width="0.5" />
<line x1="245.80" y1="324.10" x2="245.80" y2="325.40" stroke="#bbb" stroke-width="0.5" />
<path d="M205.6,324.1L205.6,323.5L206.2,323.3L206.8,323.2L207.4,322.9L208.0,322.8L208.6,322.5L209.2,317.8L209.8,313.2L210.4,308.1L211.0,304.9L211.6,308.0L212.2,309.8L212.8,312.0L213.4,314.1L214.0,316.0L214.6,316.8L215.2,317.9L215.8,318.7L216.4,319.1L217.0,320.3L217.6,321.2L218.2,321.3L218.8,321.5L219.4,321.3L220.0,321.6L220.6,321.7L221.2,321.7L221.8,322.2L222.4,322.2L223.0,322.4L223.6,322.5L224.2,322.7L224.8,322.8L225.4,323.0L226.0,323.0L226.6,323.0L227.2,323.1L227.8,323.3L228.4,323.4L229.0,323.5L229.6,323.6L230.2,323.7L230.8,323.8L231.4,323.8L232.0,323.9L232.6,323.9L233.2,324.0L233.8,324.0L234.4,324.0L235.0,324.1L235.6,324.1L236.2,324.1L236.8,324.1L237.4,324.1L238.0,324.1L238.6,324.1L239.2,324.1L239.8,324.1L240.4,324.1L241.0,324.1L241.6,324.1L242.2,324.1L242.8,324.1L243.4,324.1L244.0,324.1L244.6,324.1L245.2,324.1L245.8,324.1Z" fill="#626262" stroke="#2a2a2a" stroke-width="0.5" stroke-linejoin="round"/>
<line x1="214.80" y1="312.20" x2="237.10" y2="312.20" stroke="#a0a0a0" stroke-width="0.75" />
<line x1="214.80" y1="311.00" x2="214.80" y2="313.40" stroke="#a0a0a0" stroke-width="0.6" />
<line x1="237.10" y1="311.00" x2="237.10" y2="313.40" stroke="#a0a0a0" stroke-width="0.6" />
<text x="224.75" y="310.20" font-size="6.6" text-anchor="middle" font-weight="normal " fill="#1a1a1a" >16</text>
<rect x="31.20" y="330.00" width="39.80" height="29.80" fill="#fff" stroke="#b4b4b4" stroke-width="0.7" />
<line x1="31.20" y1="330.00" x2="31.20" y2="359.80" stroke="#8a8a8a" stroke-width="0.7" />
<line x1="31.20" y1="359.80" x2="71.00" y2="359.80" stroke="#8a8a8a" stroke-width="0.7" />
<line x1="29.90" y1="359.80" x2="31.20" y2="359.80" stroke="#bbb" stroke-width="0.5" />
<line x1="29.90" y1="354.18" x2="31.20" y2="354.18" stroke="#bbb" stroke-width="0.5" />
<line x1="29.90" y1="348.55" x2="31.20" y2="348.55" stroke="#bbb" stroke-width="0.5" />
<line x1="29.90" y1="342.93" x2="31.20" y2="342.93" stroke="#bbb" stroke-width="0.5" />
<line x1="29.90" y1="337.31" x2="31.20" y2="337.31" stroke="#bbb" stroke-width="0.5" />
<line x1="29.90" y1="331.69" x2="31.20" y2="331.69" stroke="#bbb" stroke-width="0.5" />
<line x1="31.20" y1="359.80" x2="31.20" y2="361.10" stroke="#bbb" stroke-width="0.5" />
<line x1="41.15" y1="359.80" x2="41.15" y2="361.10" stroke="#bbb" stroke-width="0.5" />
<line x1="51.10" y1="359.80" x2="51.10" y2="361.10" stroke="#bbb" stroke-width="0.5" />
<line x1="61.05" y1="359.80" x2="61.05" y2="361.10" stroke="#bbb" stroke-width="0.5" />
<line x1="71.00" y1="359.80" x2="71.00" y2="361.10" stroke="#bbb" stroke-width="0.5" />
<path d="M31.2,359.8L31.2,359.2L31.8,359.1L32.4,358.8L33.0,358.6L33.6,358.4L34.2,358.3L34.8,358.0L35.4,357.6L36.0,356.9L36.6,356.6L37.2,356.2L37.8,355.4L38.4,355.1L39.0,353.9L39.6,352.7L40.2,351.8L40.8,351.3L41.4,350.6L42.0,348.7L42.6,348.6L43.2,348.3L43.8,346.3L44.4,346.8L45.0,348.5L45.6,348.6L46.2,349.1L46.8,351.0L47.4,351.6L48.0,352.7L48.6,353.6L49.2,354.6L49.8,355.4L50.4,356.2L51.0,356.8L51.6,357.7L52.2,358.0L52.8,358.7L53.4,359.0L54.0,359.1L54.6,359.2L55.2,359.3L55.8,359.4L56.4,359.5L57.0,359.5L57.6,359.6L58.2,359.6L58.8,359.7L59.4,359.7L60.0,359.7L60.6,359.8L61.2,359.8L61.8,359.8L62.4,359.8L63.0,359.8L63.6,359.8L64.2,359.8L64.8,359.8L65.4,359.8L66.0,359.8L66.6,359.8L67.2,359.8L67.8,359.8L68.4,359.8L69.0,359.8L69.6,359.8L70.2,359.8L70.8,359.8L71.0,359.8Z" fill="#626262" stroke="#2a2a2a" stroke-width="0.5" stroke-linejoin="round"/>
<line x1="40.40" y1="347.90" x2="61.90" y2="347.90" stroke="#a0a0a0" stroke-width="0.75" />
<line x1="40.40" y1="346.70" x2="40.40" y2="349.10" stroke="#a0a0a0" stroke-width="0.6" />
<line x1="61.90" y1="346.70" x2="61.90" y2="349.10" stroke="#a0a0a0" stroke-width="0.6" />
<text x="51.50" y="345.90" font-size="6.6" text-anchor="middle" font-weight="normal " fill="#1a1a1a" >68</text>
<rect x="74.90" y="330.00" width="40.00" height="29.80" fill="#fff" stroke="#b4b4b4" stroke-width="0.7" />
<line x1="74.90" y1="330.00" x2="74.90" y2="359.80" stroke="#8a8a8a" stroke-width="0.7" />
<line x1="74.90" y1="359.80" x2="114.90" y2="359.80" stroke="#8a8a8a" stroke-width="0.7" />
<line x1="73.60" y1="359.80" x2="74.90" y2="359.80" stroke="#bbb" stroke-width="0.5" />
<line x1="73.60" y1="354.18" x2="74.90" y2="354.18" stroke="#bbb" stroke-width="0.5" />
<line x1="73.60" y1="348.55" x2="74.90" y2="348.55" stroke="#bbb" stroke-width="0.5" />
<line x1="73.60" y1="342.93" x2="74.90" y2="342.93" stroke="#bbb" stroke-width="0.5" />
<line x1="73.60" y1="337.31" x2="74.90" y2="337.31" stroke="#bbb" stroke-width="0.5" />
<line x1="73.60" y1="331.69" x2="74.90" y2="331.69" stroke="#bbb" stroke-width="0.5" />
<line x1="74.90" y1="359.80" x2="74.90" y2="361.10" stroke="#bbb" stroke-width="0.5" />
<line x1="84.90" y1="359.80" x2="84.90" y2="361.10" stroke="#bbb" stroke-width="0.5" />
<line x1="94.90" y1="359.80" x2="94.90" y2="361.10" stroke="#bbb" stroke-width="0.5" />
<line x1="104.90" y1="359.80" x2="104.90" y2="361.10" stroke="#bbb" stroke-width="0.5" />
<line x1="114.90" y1="359.80" x2="114.90" y2="361.10" stroke="#bbb" stroke-width="0.5" />
<path d="M74.9,359.8L74.9,358.4L75.5,356.4L76.1,355.0L76.7,352.8L77.3,350.7L77.9,347.9L78.5,347.6L79.1,349.1L79.7,351.4L80.3,352.5L80.9,353.0L81.5,353.5L82.1,353.4L82.7,353.1L83.3,352.5L83.9,352.5L84.5,352.3L85.1,352.4L85.7,352.4L86.3,351.6L86.9,350.5L87.5,349.9L88.1,351.7L88.7,352.9L89.3,354.0L89.9,355.7L90.5,355.7L91.1,356.6L91.7,357.2L92.3,357.8L92.9,358.1L93.5,358.5L94.1,358.8L94.7,358.9L95.3,359.2L95.9,359.5L96.5,359.5L97.1,359.5L97.7,359.6L98.3,359.6L98.9,359.6L99.5,359.6L100.1,359.6L100.7,359.7L101.3,359.7L101.9,359.7L102.5,359.7L103.1,359.7L103.7,359.8L104.3,359.8L104.9,359.8L105.5,359.8L106.1,359.8L106.7,359.8L107.3,359.8L107.9,359.8L108.5,359.8L109.1,359.8L109.7,359.8L110.3,359.8L110.9,359.8L111.5,359.8L112.1,359.8L112.7,359.8L113.3,359.8L113.9,359.8L114.5,359.8L114.9,359.8Z" fill="#626262" stroke="#2a2a2a" stroke-width="0.5" stroke-linejoin="round"/>
<line x1="84.00" y1="347.90" x2="105.50" y2="347.90" stroke="#a0a0a0" stroke-width="0.75" />
<line x1="84.00" y1="346.70" x2="84.00" y2="349.10" stroke="#a0a0a0" stroke-width="0.6" />
<line x1="105.50" y1="346.70" x2="105.50" y2="349.10" stroke="#a0a0a0" stroke-width="0.6" />
<text x="94.75" y="345.90" font-size="6.6" text-anchor="middle" font-weight="normal " fill="#1a1a1a" >36</text>
<rect x="118.90" y="330.00" width="39.30" height="29.80" fill="#fff" stroke="#b4b4b4" stroke-width="0.7" />
<line x1="118.90" y1="330.00" x2="118.90" y2="359.80" stroke="#8a8a8a" stroke-width="0.7" />
<line x1="118.90" y1="359.80" x2="158.20" y2="359.80" stroke="#8a8a8a" stroke-width="0.7" />
<line x1="117.60" y1="359.80" x2="118.90" y2="359.80" stroke="#bbb" stroke-width="0.5" />
<line x1="117.60" y1="354.18" x2="118.90" y2="354.18" stroke="#bbb" stroke-width="0.5" />
<line x1="117.60" y1="348.55" x2="118.90" y2="348.55" stroke="#bbb" stroke-width="0.5" />
<line x1="117.60" y1="342.93" x2="118.90" y2="342.93" stroke="#bbb" stroke-width="0.5" />
<line x1="117.60" y1="337.31" x2="118.90" y2="337.31" stroke="#bbb" stroke-width="0.5" />
<line x1="117.60" y1="331.69" x2="118.90" y2="331.69" stroke="#bbb" stroke-width="0.5" />
<line x1="118.90" y1="359.80" x2="118.90" y2="361.10" stroke="#bbb" stroke-width="0.5" />
<line x1="128.72" y1="359.80" x2="128.72" y2="361.10" stroke="#bbb" stroke-width="0.5" />
<line x1="138.55" y1="359.80" x2="138.55" y2="361.10" stroke="#bbb" stroke-width="0.5" />
<line x1="148.38" y1="359.80" x2="148.38" y2="361.10" stroke="#bbb" stroke-width="0.5" />
<line x1="158.20" y1="359.80" x2="158.20" y2="361.10" stroke="#bbb" stroke-width="0.5" />
<path d="M118.9,359.8L118.9,350.1L119.5,349.2L120.1,347.6L120.7,347.2L121.3,348.8L121.9,348.8L122.5,349.6L123.1,350.6L123.7,352.2L124.3,351.6L124.9,353.0L125.5,353.0L126.1,353.9L126.7,353.7L127.3,353.9L127.9,353.7L128.5,353.6L129.1,353.8L129.7,354.1L130.3,353.8L130.9,353.5L131.5,353.3L132.1,353.4L132.7,354.1L133.3,354.7L133.9,355.7L134.5,356.1L135.1,356.9L135.7,357.8L136.3,358.1L136.9,358.6L137.5,359.0L138.1,359.3L138.7,359.5L139.3,359.5L139.9,359.5L140.5,359.6L141.1,359.6L141.7,359.6L142.3,359.6L142.9,359.6L143.5,359.6L144.1,359.7L144.7,359.7L145.3,359.7L145.9,359.7L146.5,359.7L147.1,359.7L147.7,359.8L148.3,359.8L148.9,359.8L149.5,359.8L150.1,359.8L150.7,359.8L151.3,359.8L151.9,359.8L152.5,359.8L153.1,359.8L153.7,359.8L154.3,359.8L154.9,359.8L155.5,359.8L156.1,359.8L156.7,359.8L157.3,359.8L157.9,359.8L158.2,359.8Z" fill="#626262" stroke="#2a2a2a" stroke-width="0.5" stroke-linejoin="round"/>
<line x1="127.20" y1="347.90" x2="149.20" y2="347.90" stroke="#a0a0a0" stroke-width="0.75" />
<line x1="127.20" y1="346.70" x2="127.20" y2="349.10" stroke="#a0a0a0" stroke-width="0.6" />
<line x1="149.20" y1="346.70" x2="149.20" y2="349.10" stroke="#a0a0a0" stroke-width="0.6" />
<text x="137.80" y="345.90" font-size="6.6" text-anchor="middle" font-weight="normal " fill="#1a1a1a" >28</text>
<rect x="162.40" y="330.00" width="39.60" height="29.80" fill="#fff" stroke="#b4b4b4" stroke-width="0.7" />
<line x1="162.40" y1="330.00" x2="162.40" y2="359.80" stroke="#8a8a8a" stroke-width="0.7" />
<line x1="162.40" y1="359.80" x2="202.00" y2="359.80" stroke="#8a8a8a" stroke-width="0.7" />
<line x1="161.10" y1="359.80" x2="162.40" y2="359.80" stroke="#bbb" stroke-width="0.5" />
<line x1="161.10" y1="354.18" x2="162.40" y2="354.18" stroke="#bbb" stroke-width="0.5" />
<line x1="161.10" y1="348.55" x2="162.40" y2="348.55" stroke="#bbb" stroke-width="0.5" />
<line x1="161.10" y1="342.93" x2="162.40" y2="342.93" stroke="#bbb" stroke-width="0.5" />
<line x1="161.10" y1="337.31" x2="162.40" y2="337.31" stroke="#bbb" stroke-width="0.5" />
<line x1="161.10" y1="331.69" x2="162.40" y2="331.69" stroke="#bbb" stroke-width="0.5" />
<line x1="162.40" y1="359.80" x2="162.40" y2="361.10" stroke="#bbb" stroke-width="0.5" />
<line x1="172.30" y1="359.80" x2="172.30" y2="361.10" stroke="#bbb" stroke-width="0.5" />
<line x1="182.20" y1="359.80" x2="182.20" y2="361.10" stroke="#bbb" stroke-width="0.5" />
<line x1="192.10" y1="359.80" x2="192.10" y2="361.10" stroke="#bbb" stroke-width="0.5" />
<line x1="202.00" y1="359.80" x2="202.00" y2="361.10" stroke="#bbb" stroke-width="0.5" />
<path d="M162.4,359.8L162.4,350.9L163.0,350.0L163.6,349.0L164.2,349.4L164.8,350.6L165.4,350.9L166.0,351.5L166.6,352.3L167.2,353.1L167.8,353.8L168.4,353.9L169.0,354.3L169.6,354.4L170.2,354.1L170.8,354.2L171.4,353.4L172.0,353.5L172.6,353.1L173.2,352.9L173.8,353.5L174.4,353.6L175.0,354.9L175.6,355.6L176.2,356.2L176.8,357.0L177.4,357.4L178.0,357.8L178.6,358.1L179.2,358.2L179.8,358.5L180.4,358.5L181.0,358.8L181.6,358.9L182.2,359.1L182.8,359.3L183.4,359.3L184.0,359.4L184.6,359.4L185.2,359.5L185.8,359.5L186.4,359.5L187.0,359.6L187.6,359.6L188.2,359.6L188.8,359.6L189.4,359.7L190.0,359.7L190.6,359.7L191.2,359.7L191.8,359.8L192.4,359.8L193.0,359.8L193.6,359.8L194.2,359.8L194.8,359.8L195.4,359.8L196.0,359.8L196.6,359.8L197.2,359.8L197.8,359.8L198.4,359.8L199.0,359.8L199.6,359.8L200.2,359.8L200.8,359.8L201.4,359.8L202.0,359.8Z" fill="#626262" stroke="#2a2a2a" stroke-width="0.5" stroke-linejoin="round"/>
<line x1="171.00" y1="347.90" x2="192.50" y2="347.90" stroke="#a0a0a0" stroke-width="0.75" />
<line x1="171.00" y1="346.70" x2="171.00" y2="349.10" stroke="#a0a0a0" stroke-width="0.6" />
<line x1="192.50" y1="346.70" x2="192.50" y2="349.10" stroke="#a0a0a0" stroke-width="0.6" />
<text x="181.75" y="345.90" font-size="6.6" text-anchor="middle" font-weight="normal " fill="#1a1a1a" >33</text>
<rect x="205.60" y="330.00" width="40.20" height="29.80" fill="#fff" stroke="#b4b4b4" stroke-width="0.7" />
<line x1="205.60" y1="330.00" x2="205.60" y2="359.80" stroke="#8a8a8a" stroke-width="0.7" />
<line x1="205.60" y1="359.80" x2="245.80" y2="359.80" stroke="#8a8a8a" stroke-width="0.7" />
<line x1="204.30" y1="359.80" x2="205.60" y2="359.80" stroke="#bbb" stroke-width="0.5" />
<line x1="204.30" y1="354.18" x2="205.60" y2="354.18" stroke="#bbb" stroke-width="0.5" />
<line x1="204.30" y1="348.55" x2="205.60" y2="348.55" stroke="#bbb" stroke-width="0.5" />
<line x1="204.30" y1="342.93" x2="205.60" y2="342.93" stroke="#bbb" stroke-width="0.5" />
<line x1="204.30" y1="337.31" x2="205.60" y2="337.31" stroke="#bbb" stroke-width="0.5" />
<line x1="204.30" y1="331.69" x2="205.60" y2="331.69" stroke="#bbb" stroke-width="0.5" />
<line x1="205.60" y1="359.80" x2="205.60" y2="361.10" stroke="#bbb" stroke-width="0.5" />
<line x1="215.65" y1="359.80" x2="215.65" y2="361.10" stroke="#bbb" stroke-width="0.5" />
<line x1="225.70" y1="359.80" x2="225.70" y2="361.10" stroke="#bbb" stroke-width="0.5" />
<line x1="235.75" y1="359.80" x2="235.75" y2="361.10" stroke="#bbb" stroke-width="0.5" />
<line x1="245.80" y1="359.80" x2="245.80" y2="361.10" stroke="#bbb" stroke-width="0.5" />
<path d="M205.6,359.8L205.6,359.2L206.2,359.2L206.8,359.2L207.4,359.2L208.0,359.2L208.6,359.2L209.2,359.0L209.8,358.6L210.4,358.5L211.0,357.9L211.6,357.3L212.2,356.8L212.8,356.1L213.4,355.6L214.0,355.3L214.6,354.5L215.2,353.6L215.8,352.6L216.4,351.8L217.0,351.7L217.6,350.3L218.2,349.8L218.8,349.5L219.4,350.9L220.0,350.7L220.6,351.2L221.2,353.0L221.8,353.7L222.4,354.6L223.0,355.6L223.6,356.7L224.2,357.3L224.8,358.0L225.4,358.4L226.0,358.7L226.6,358.9L227.2,359.0L227.8,359.2L228.4,359.3L229.0,359.4L229.6,359.5L230.2,359.5L230.8,359.6L231.4,359.6L232.0,359.6L232.6,359.7L233.2,359.7L233.8,359.7L234.4,359.7L235.0,359.8L235.6,359.8L236.2,359.8L236.8,359.8L237.4,359.8L238.0,359.8L238.6,359.8L239.2,359.8L239.8,359.8L240.4,359.8L241.0,359.8L241.6,359.8L242.2,359.8L242.8,359.8L243.4,359.8L244.0,359.8L244.6,359.8L245.2,359.8L245.8,359.8Z" fill="#626262" stroke="#2a2a2a" stroke-width="0.5" stroke-linejoin="round"/>
<line x1="214.80" y1="347.90" x2="237.10" y2="347.90" stroke="#a0a0a0" stroke-width="0.75" />
<line x1="214.80" y1="346.70" x2="214.80" y2="349.10" stroke="#a0a0a0" stroke-width="0.6" />
<line x1="237.10" y1="346.70" x2="237.10" y2="349.10" stroke="#a0a0a0" stroke-width="0.6" />
<text x="224.75" y="345.90" font-size="6.6" text-anchor="middle" font-weight="normal " fill="#1a1a1a" >74</text>
<line x1="32.00" y1="372.20" x2="131.20" y2="372.20" stroke="#555" stroke-width="1.0" />
<line x1="148.90" y1="372.20" x2="248.70" y2="372.20" stroke="#555" stroke-width="1.0" />
<text x="135.10" y="374.80" font-size="7.6" text-anchor="start" font-weight="normal" fill="#222" stroke="#222" stroke-width="0.25" textLength="11.0" lengthAdjust="spacingAndGlyphs">M30</text>
<text x="258.80" y="194.80" font-size="11.5" text-anchor="start" font-weight="bold" fill="#000" >D</text>
<line x1="285.50" y1="225.40" x2="285.50" y2="360.60" stroke="#000" stroke-width="1.0" />
<line x1="283.30" y1="360.60" x2="285.50" y2="360.60" stroke="#111" stroke-width="0.8" />
<text x="282.10" y="363.60" font-size="8.3" text-anchor="end" font-weight="normal" fill="#000" stroke="#000" stroke-width="0.25" >0</text>
<line x1="283.30" y1="326.80" x2="285.50" y2="326.80" stroke="#111" stroke-width="0.8" />
<text x="282.10" y="329.80" font-size="8.3" text-anchor="end" font-weight="normal" fill="#000" stroke="#000" stroke-width="0.25" >20</text>
<line x1="283.30" y1="293.00" x2="285.50" y2="293.00" stroke="#111" stroke-width="0.8" />
<text x="282.10" y="296.00" font-size="8.3" text-anchor="end" font-weight="normal" fill="#000" stroke="#000" stroke-width="0.25" >40</text>
<line x1="283.30" y1="259.20" x2="285.50" y2="259.20" stroke="#111" stroke-width="0.8" />
<text x="282.10" y="262.20" font-size="8.3" text-anchor="end" font-weight="normal" fill="#000" stroke="#000" stroke-width="0.25" >60</text>
<line x1="283.30" y1="225.40" x2="285.50" y2="225.40" stroke="#111" stroke-width="0.8" />
<text x="282.10" y="228.40" font-size="8.3" text-anchor="end" font-weight="normal" fill="#000" stroke="#000" stroke-width="0.25" >80</text>
<line x1="285.50" y1="360.60" x2="486.00" y2="360.60" stroke="#000" stroke-width="1.0" />
<line x1="325.20" y1="360.60" x2="325.20" y2="362.80" stroke="#111" stroke-width="0.8" />
<line x1="365.40" y1="360.60" x2="365.40" y2="362.80" stroke="#111" stroke-width="0.8" />
<line x1="405.60" y1="360.60" x2="405.60" y2="362.80" stroke="#111" stroke-width="0.8" />
<line x1="445.80" y1="360.60" x2="445.80" y2="362.80" stroke="#111" stroke-width="0.8" />
<line x1="486.00" y1="360.60" x2="486.00" y2="362.80" stroke="#111" stroke-width="0.8" />
<rect x="290.00" y="348.26" width="7.50" height="12.34" fill="#ffffff" stroke="#222" stroke-width="0.6" />
<line x1="293.75" y1="344.04" x2="293.75" y2="352.49" stroke="#111" stroke-width="0.6" />
<line x1="292.45" y1="344.04" x2="295.05" y2="344.04" stroke="#111" stroke-width="0.7" />
<line x1="292.75" y1="352.49" x2="294.75" y2="352.49" stroke="#111" stroke-width="0.9" />
<rect x="297.50" y="349.62" width="7.50" height="10.98" fill="#a6a6a6" stroke="#222" stroke-width="0.6" />
<line x1="301.25" y1="346.24" x2="301.25" y2="353.00" stroke="#111" stroke-width="0.6" />
<line x1="299.95" y1="346.24" x2="302.55" y2="346.24" stroke="#111" stroke-width="0.7" />
<line x1="300.25" y1="353.00" x2="302.25" y2="353.00" stroke="#111" stroke-width="0.9" />
<rect x="305.00" y="342.86" width="7.50" height="17.75" fill="#595959" stroke="#222" stroke-width="0.6" />
<line x1="308.75" y1="339.98" x2="308.75" y2="345.73" stroke="#111" stroke-width="0.6" />
<line x1="307.45" y1="339.98" x2="310.05" y2="339.98" stroke="#111" stroke-width="0.7" />
<line x1="307.75" y1="345.73" x2="309.75" y2="345.73" stroke="#111" stroke-width="0.9" />
<rect x="312.50" y="249.06" width="7.50" height="111.54" fill="#1a1a1a" stroke="#222" stroke-width="0.6" />
<line x1="316.25" y1="244.50" x2="316.25" y2="253.62" stroke="#111" stroke-width="0.6" />
<line x1="314.95" y1="244.50" x2="317.55" y2="244.50" stroke="#111" stroke-width="0.7" />
<rect x="330.20" y="343.36" width="7.50" height="17.24" fill="#ffffff" stroke="#222" stroke-width="0.6" />
<line x1="333.95" y1="338.80" x2="333.95" y2="347.93" stroke="#111" stroke-width="0.6" />
<line x1="332.65" y1="338.80" x2="335.25" y2="338.80" stroke="#111" stroke-width="0.7" />
<line x1="332.95" y1="347.93" x2="334.95" y2="347.93" stroke="#111" stroke-width="0.9" />
<rect x="337.70" y="344.71" width="7.50" height="15.89" fill="#a6a6a6" stroke="#222" stroke-width="0.6" />
<line x1="341.45" y1="341.50" x2="341.45" y2="347.93" stroke="#111" stroke-width="0.6" />
<line x1="340.15" y1="341.50" x2="342.75" y2="341.50" stroke="#111" stroke-width="0.7" />
<line x1="340.45" y1="347.93" x2="342.45" y2="347.93" stroke="#111" stroke-width="0.9" />
<rect x="345.20" y="336.60" width="7.50" height="24.00" fill="#595959" stroke="#222" stroke-width="0.6" />
<line x1="348.95" y1="333.90" x2="348.95" y2="339.31" stroke="#111" stroke-width="0.6" />
<line x1="347.65" y1="333.90" x2="350.25" y2="333.90" stroke="#111" stroke-width="0.7" />
<line x1="347.95" y1="339.31" x2="349.95" y2="339.31" stroke="#111" stroke-width="0.9" />
<rect x="352.70" y="307.03" width="7.50" height="53.57" fill="#1a1a1a" stroke="#222" stroke-width="0.6" />
<line x1="356.45" y1="292.16" x2="356.45" y2="321.90" stroke="#111" stroke-width="0.6" />
<line x1="355.15" y1="292.16" x2="357.75" y2="292.16" stroke="#111" stroke-width="0.7" />
<rect x="370.40" y="343.02" width="7.50" height="17.58" fill="#ffffff" stroke="#222" stroke-width="0.6" />
<line x1="374.15" y1="339.31" x2="374.15" y2="346.74" stroke="#111" stroke-width="0.6" />
<line x1="372.85" y1="339.31" x2="375.45" y2="339.31" stroke="#111" stroke-width="0.7" />
<line x1="373.15" y1="346.74" x2="375.15" y2="346.74" stroke="#111" stroke-width="0.9" />
<rect x="377.90" y="343.02" width="7.50" height="17.58" fill="#a6a6a6" stroke="#222" stroke-width="0.6" />
<line x1="381.65" y1="338.46" x2="381.65" y2="347.59" stroke="#111" stroke-width="0.6" />
<line x1="380.35" y1="338.46" x2="382.95" y2="338.46" stroke="#111" stroke-width="0.7" />
<line x1="380.65" y1="347.59" x2="382.65" y2="347.59" stroke="#111" stroke-width="0.9" />
<rect x="385.40" y="335.42" width="7.50" height="25.18" fill="#595959" stroke="#222" stroke-width="0.6" />
<line x1="389.15" y1="330.52" x2="389.15" y2="340.32" stroke="#111" stroke-width="0.6" />
<line x1="387.85" y1="330.52" x2="390.45" y2="330.52" stroke="#111" stroke-width="0.7" />
<line x1="388.15" y1="340.32" x2="390.15" y2="340.32" stroke="#111" stroke-width="0.9" />
<rect x="392.90" y="316.66" width="7.50" height="43.94" fill="#1a1a1a" stroke="#222" stroke-width="0.6" />
<line x1="396.65" y1="308.21" x2="396.65" y2="325.11" stroke="#111" stroke-width="0.6" />
<line x1="395.35" y1="308.21" x2="397.95" y2="308.21" stroke="#111" stroke-width="0.7" />
<rect x="410.60" y="344.04" width="7.50" height="16.56" fill="#ffffff" stroke="#222" stroke-width="0.6" />
<line x1="414.35" y1="338.46" x2="414.35" y2="349.62" stroke="#111" stroke-width="0.6" />
<line x1="413.05" y1="338.46" x2="415.65" y2="338.46" stroke="#111" stroke-width="0.7" />
<line x1="413.35" y1="349.62" x2="415.35" y2="349.62" stroke="#111" stroke-width="0.9" />
<rect x="418.10" y="346.40" width="7.50" height="14.20" fill="#a6a6a6" stroke="#222" stroke-width="0.6" />
<line x1="421.85" y1="344.04" x2="421.85" y2="348.77" stroke="#111" stroke-width="0.6" />
<line x1="420.55" y1="344.04" x2="423.15" y2="344.04" stroke="#111" stroke-width="0.7" />
<line x1="420.85" y1="348.77" x2="422.85" y2="348.77" stroke="#111" stroke-width="0.9" />
<rect x="425.60" y="337.28" width="7.50" height="23.32" fill="#595959" stroke="#222" stroke-width="0.6" />
<line x1="429.35" y1="333.56" x2="429.35" y2="341.00" stroke="#111" stroke-width="0.6" />
<line x1="428.05" y1="333.56" x2="430.65" y2="333.56" stroke="#111" stroke-width="0.7" />
<line x1="428.35" y1="341.00" x2="430.35" y2="341.00" stroke="#111" stroke-width="0.9" />
<rect x="433.10" y="308.21" width="7.50" height="52.39" fill="#1a1a1a" stroke="#222" stroke-width="0.6" />
<line x1="436.85" y1="296.38" x2="436.85" y2="320.04" stroke="#111" stroke-width="0.6" />
<line x1="435.55" y1="296.38" x2="438.15" y2="296.38" stroke="#111" stroke-width="0.7" />
<rect x="450.80" y="345.39" width="7.50" height="15.21" fill="#ffffff" stroke="#222" stroke-width="0.6" />
<line x1="454.55" y1="341.84" x2="454.55" y2="348.94" stroke="#111" stroke-width="0.6" />
<line x1="453.25" y1="341.84" x2="455.85" y2="341.84" stroke="#111" stroke-width="0.7" />
<line x1="453.55" y1="348.94" x2="455.55" y2="348.94" stroke="#111" stroke-width="0.9" />
<rect x="458.30" y="346.57" width="7.50" height="14.03" fill="#a6a6a6" stroke="#222" stroke-width="0.6" />
<line x1="462.05" y1="343.53" x2="462.05" y2="349.62" stroke="#111" stroke-width="0.6" />
<line x1="460.75" y1="343.53" x2="463.35" y2="343.53" stroke="#111" stroke-width="0.7" />
<line x1="461.05" y1="349.62" x2="463.05" y2="349.62" stroke="#111" stroke-width="0.9" />
<rect x="465.80" y="342.35" width="7.50" height="18.25" fill="#595959" stroke="#222" stroke-width="0.6" />
<line x1="469.55" y1="336.43" x2="469.55" y2="348.26" stroke="#111" stroke-width="0.6" />
<line x1="468.25" y1="336.43" x2="470.85" y2="336.43" stroke="#111" stroke-width="0.7" />
<line x1="468.55" y1="348.26" x2="470.55" y2="348.26" stroke="#111" stroke-width="0.9" />
<rect x="473.30" y="258.36" width="7.50" height="102.24" fill="#1a1a1a" stroke="#222" stroke-width="0.6" />
<line x1="477.05" y1="242.81" x2="477.05" y2="273.90" stroke="#111" stroke-width="0.6" />
<line x1="475.75" y1="242.81" x2="478.35" y2="242.81" stroke="#111" stroke-width="0.7" />
<text x="305.50" y="371.80" font-size="7.8" text-anchor="middle" font-weight="normal" fill="#000" stroke="#000" stroke-width="0.25" >Ctrl</text>
<text x="345.70" y="371.80" font-size="7.8" text-anchor="middle" font-weight="normal" fill="#000" stroke="#000" stroke-width="0.25" >Dyn2</text>
<text x="385.90" y="371.80" font-size="7.8" text-anchor="middle" font-weight="normal" fill="#000" stroke="#000" stroke-width="0.25" >AP2&#956;2</text>
<text x="426.10" y="371.80" font-size="7.8" text-anchor="middle" font-weight="normal" fill="#000" stroke="#000" stroke-width="0.25" >CHC</text>
<text x="466.30" y="371.80" font-size="7.8" text-anchor="middle" font-weight="normal" fill="#000" stroke="#000" stroke-width="0.25" >Flotillin-1</text>
<line x1="286.00" y1="376.20" x2="485.00" y2="376.20" stroke="#111" stroke-width="0.9" />
<text x="386.00" y="385.30" font-size="7.8" text-anchor="middle" font-weight="normal" fill="#000" stroke="#000" stroke-width="0.25" >siRNA</text>
<text x="0" y="0" font-size="8.5" text-anchor="middle" fill="#000" stroke="#000" stroke-width="0.2" transform="translate(269.50,290.00) rotate(-90)">% apoptotic cells (M30)</text>
<text x="357.55" y="294.20" font-size="12.5" text-anchor="middle" font-weight="bold" fill="#000" letter-spacing="0.8">**</text>
<text x="396.95" y="309.50" font-size="12.5" text-anchor="middle" font-weight="bold" fill="#000" letter-spacing="0.8">**</text>
<text x="437.35" y="298.00" font-size="12.5" text-anchor="middle" font-weight="bold" fill="#000" letter-spacing="0.8">**</text>
<rect x="488.10" y="273.50" width="5.00" height="3.70" fill="#ffffff" stroke="#111" stroke-width="0.95" />
<text x="496.50" y="277.50" font-size="7.4" text-anchor="start" font-weight="normal" fill="#000" stroke="#000" stroke-width="0.25" >Buffer</text>
<rect x="488.10" y="285.70" width="5.00" height="3.70" fill="#a6a6a6" stroke="#111" stroke-width="0.95" />
<text x="496.50" y="289.70" font-size="7.4" text-anchor="start" font-weight="normal" fill="#000" stroke="#000" stroke-width="0.25" >PFN</text>
<rect x="488.10" y="297.90" width="5.00" height="3.70" fill="#595959" stroke="#111" stroke-width="0.95" />
<text x="496.50" y="301.90" font-size="7.4" text-anchor="start" font-weight="normal" fill="#000" stroke="#000" stroke-width="0.25" >GzmB</text>
<rect x="488.10" y="311.40" width="5.00" height="3.70" fill="#1a1a1a" stroke="#111" stroke-width="0.95" />
<text x="507.00" y="313.00" font-size="7.4" text-anchor="middle" font-weight="normal" fill="#000" stroke="#000" stroke-width="0.25" >PFN</text>
<text x="507.00" y="321.90" font-size="7.4" text-anchor="middle" font-weight="normal" fill="#000" stroke="#000" stroke-width="0.25" >+GzmB</text>
<text x="1.80" y="396.60" font-size="11.5" text-anchor="start" font-weight="bold" fill="#000" >E</text>
<line x1="35.60" y1="404.00" x2="35.60" y2="530.00" stroke="#111" stroke-width="0.9" />
<line x1="33.40" y1="530.00" x2="35.60" y2="530.00" stroke="#111" stroke-width="0.8" />
<text x="32.60" y="532.90" font-size="8" text-anchor="end" font-weight="normal" fill="#000" stroke="#000" stroke-width="0.25" >20</text>
<line x1="33.40" y1="498.50" x2="35.60" y2="498.50" stroke="#111" stroke-width="0.8" />
<text x="32.60" y="501.40" font-size="8" text-anchor="end" font-weight="normal" fill="#000" stroke="#000" stroke-width="0.25" >40</text>
<line x1="33.40" y1="467.00" x2="35.60" y2="467.00" stroke="#111" stroke-width="0.8" />
<text x="32.60" y="469.90" font-size="8" text-anchor="end" font-weight="normal" fill="#000" stroke="#000" stroke-width="0.25" >60</text>
<line x1="33.40" y1="435.50" x2="35.60" y2="435.50" stroke="#111" stroke-width="0.8" />
<text x="32.60" y="438.40" font-size="8" text-anchor="end" font-weight="normal" fill="#000" stroke="#000" stroke-width="0.25" >80</text>
<line x1="33.40" y1="404.00" x2="35.60" y2="404.00" stroke="#111" stroke-width="0.8" />
<text x="32.60" y="406.90" font-size="8" text-anchor="end" font-weight="normal" fill="#000" stroke="#000" stroke-width="0.25" >100</text>
<line x1="35.60" y1="530.00" x2="211.40" y2="530.00" stroke="#111" stroke-width="0.9" />
<line x1="35.60" y1="530.00" x2="35.60" y2="532.40" stroke="#111" stroke-width="0.8" />
<line x1="94.20" y1="530.00" x2="94.20" y2="532.40" stroke="#111" stroke-width="0.8" />
<line x1="152.80" y1="530.00" x2="152.80" y2="532.40" stroke="#111" stroke-width="0.8" />
<line x1="211.40" y1="530.00" x2="211.40" y2="532.40" stroke="#111" stroke-width="0.8" />
<text x="65.00" y="540.00" font-size="7.5" text-anchor="middle" font-weight="normal" fill="#000" stroke="#000" stroke-width="0.25" >30:1</text>
<text x="123.60" y="540.00" font-size="7.5" text-anchor="middle" font-weight="normal" fill="#000" stroke="#000" stroke-width="0.25" >10:1</text>
<text x="182.00" y="540.00" font-size="7.5" text-anchor="middle" font-weight="normal" fill="#000" stroke="#000" stroke-width="0.25" >3:1</text>
<text x="125.60" y="550.40" font-size="7.75" text-anchor="middle" font-weight="normal" fill="#000" stroke="#000" stroke-width="0.25" >Effector:Target ratio</text>
<text x="0" y="0" font-size="8.5" text-anchor="start" fill="#000" stroke="#000" stroke-width="0.2" transform="translate(18.7,497.4) rotate(-90)">%</text>
<text x="0" y="0" font-size="4.6" text-anchor="start" fill="#000" stroke="#000" stroke-width="0.2" transform="translate(13.9,484.0) rotate(-90)">51</text>
<text x="0" y="0" font-size="8.5" text-anchor="start" fill="#000" stroke="#000" stroke-width="0.2" transform="translate(18.7,479.1) rotate(-90)">Cr</text>
<text x="0" y="0" font-size="8.5" text-anchor="start" fill="#000" stroke="#000" stroke-width="0.2" transform="translate(18.7,465.3) rotate(-90)">release</text>
<polyline points="65.00,446.05 123.60,467.00 182.00,506.69" fill="none" stroke="#111111" stroke-width="1.1"/>
<polyline points="65.00,453.77 123.60,482.28 182.00,515.35" fill="none" stroke="#e3262f" stroke-width="1.1"/>
<polyline points="65.00,450.31 123.60,467.94 182.00,495.35" fill="none" stroke="#2b2f86" stroke-width="1.1"/>
<polyline points="65.00,461.01 123.60,478.02 182.00,506.85" fill="none" stroke="#2fa05a" stroke-width="1.1"/>
<polyline points="65.00,454.56 123.60,476.13 182.00,510.31" fill="none" stroke="#f3a531" stroke-width="1.1"/>
<polyline points="65.00,435.66 123.60,468.10 182.00,502.28" fill="none" stroke="#7a7a7a" stroke-width="1.1"/>
<line x1="65.00" y1="443.69" x2="65.00" y2="448.42" stroke="#090909" stroke-width="0.8" />
<line x1="63.50" y1="443.69" x2="66.50" y2="443.69" stroke="#090909" stroke-width="0.9" />
<line x1="63.50" y1="448.42" x2="66.50" y2="448.42" stroke="#090909" stroke-width="0.9" />
<path d="M65.0,443.5525 L67.5,446.0525 L65.0,448.5525 L62.5,446.0525 Z" fill="#111111"/>
<line x1="123.60" y1="464.64" x2="123.60" y2="469.36" stroke="#090909" stroke-width="0.8" />
<line x1="122.10" y1="464.64" x2="125.10" y2="464.64" stroke="#090909" stroke-width="0.9" />
<line x1="122.10" y1="469.36" x2="125.10" y2="469.36" stroke="#090909" stroke-width="0.9" />
<path d="M123.6,464.5 L126.1,467.0 L123.6,469.5 L121.1,467.0 Z" fill="#111111"/>
<line x1="182.00" y1="504.33" x2="182.00" y2="509.05" stroke="#090909" stroke-width="0.8" />
<line x1="180.50" y1="504.33" x2="183.50" y2="504.33" stroke="#090909" stroke-width="0.9" />
<line x1="180.50" y1="509.05" x2="183.50" y2="509.05" stroke="#090909" stroke-width="0.9" />
<path d="M182.0,504.19 L184.5,506.69 L182.0,509.19 L179.5,506.69 Z" fill="#111111"/>
<line x1="65.00" y1="451.41" x2="65.00" y2="456.13" stroke="#7c1419" stroke-width="0.8" />
<line x1="63.50" y1="451.41" x2="66.50" y2="451.41" stroke="#7c1419" stroke-width="0.9" />
<line x1="63.50" y1="456.13" x2="66.50" y2="456.13" stroke="#7c1419" stroke-width="0.9" />
<rect x="62.90" y="451.67" width="4.20" height="4.20" fill="#e3262f" stroke="none" stroke-width="0.8" />
<line x1="123.60" y1="480.39" x2="123.60" y2="484.17" stroke="#7c1419" stroke-width="0.8" />
<line x1="122.10" y1="480.39" x2="125.10" y2="480.39" stroke="#7c1419" stroke-width="0.9" />
<line x1="122.10" y1="484.17" x2="125.10" y2="484.17" stroke="#7c1419" stroke-width="0.9" />
<rect x="121.50" y="480.18" width="4.20" height="4.20" fill="#e3262f" stroke="none" stroke-width="0.8" />
<line x1="182.00" y1="510.63" x2="182.00" y2="520.08" stroke="#7c1419" stroke-width="0.8" />
<line x1="180.50" y1="510.63" x2="183.50" y2="510.63" stroke="#7c1419" stroke-width="0.9" />
<line x1="180.50" y1="520.08" x2="183.50" y2="520.08" stroke="#7c1419" stroke-width="0.9" />
<rect x="179.90" y="513.25" width="4.20" height="4.20" fill="#e3262f" stroke="none" stroke-width="0.8" />
<line x1="65.00" y1="447.94" x2="65.00" y2="452.67" stroke="#171949" stroke-width="0.8" />
<line x1="63.50" y1="447.94" x2="66.50" y2="447.94" stroke="#171949" stroke-width="0.9" />
<line x1="63.50" y1="452.67" x2="66.50" y2="452.67" stroke="#171949" stroke-width="0.9" />
<path d="M65.0,447.905 L67.39999999999999,452.40500000000003 L62.6,452.40500000000003 Z" fill="#2b2f86"/>
<line x1="123.60" y1="465.58" x2="123.60" y2="470.31" stroke="#171949" stroke-width="0.8" />
<line x1="122.10" y1="465.58" x2="125.10" y2="465.58" stroke="#171949" stroke-width="0.9" />
<line x1="122.10" y1="470.31" x2="125.10" y2="470.31" stroke="#171949" stroke-width="0.9" />
<path d="M123.6,465.54499999999996 L125.99999999999999,470.045 L121.2,470.045 Z" fill="#2b2f86"/>
<line x1="182.00" y1="490.62" x2="182.00" y2="500.07" stroke="#171949" stroke-width="0.8" />
<line x1="180.50" y1="490.62" x2="183.50" y2="490.62" stroke="#171949" stroke-width="0.9" />
<line x1="180.50" y1="500.07" x2="183.50" y2="500.07" stroke="#171949" stroke-width="0.9" />
<path d="M182.0,492.95 L184.4,497.45000000000005 L179.6,497.45000000000005 Z" fill="#2b2f86"/>
<line x1="65.00" y1="458.65" x2="65.00" y2="463.38" stroke="#195831" stroke-width="0.8" />
<line x1="63.50" y1="458.65" x2="66.50" y2="458.65" stroke="#195831" stroke-width="0.9" />
<line x1="63.50" y1="463.38" x2="66.50" y2="463.38" stroke="#195831" stroke-width="0.9" />
<line x1="62.90" y1="458.91" x2="67.10" y2="463.12" stroke="#2fa05a" stroke-width="0.9" />
<line x1="62.90" y1="463.12" x2="67.10" y2="458.91" stroke="#2fa05a" stroke-width="0.9" />
<line x1="123.60" y1="475.66" x2="123.60" y2="480.39" stroke="#195831" stroke-width="0.8" />
<line x1="122.10" y1="475.66" x2="125.10" y2="475.66" stroke="#195831" stroke-width="0.9" />
<line x1="122.10" y1="480.39" x2="125.10" y2="480.39" stroke="#195831" stroke-width="0.9" />
<line x1="121.50" y1="475.92" x2="125.70" y2="480.12" stroke="#2fa05a" stroke-width="0.9" />
<line x1="121.50" y1="480.12" x2="125.70" y2="475.92" stroke="#2fa05a" stroke-width="0.9" />
<line x1="182.00" y1="504.49" x2="182.00" y2="509.21" stroke="#195831" stroke-width="0.8" />
<line x1="180.50" y1="504.49" x2="183.50" y2="504.49" stroke="#195831" stroke-width="0.9" />
<line x1="180.50" y1="509.21" x2="183.50" y2="509.21" stroke="#195831" stroke-width="0.9" />
<line x1="179.90" y1="504.75" x2="184.10" y2="508.95" stroke="#2fa05a" stroke-width="0.9" />
<line x1="179.90" y1="508.95" x2="184.10" y2="504.75" stroke="#2fa05a" stroke-width="0.9" />
<line x1="65.00" y1="452.19" x2="65.00" y2="456.92" stroke="#855a1a" stroke-width="0.8" />
<line x1="63.50" y1="452.19" x2="66.50" y2="452.19" stroke="#855a1a" stroke-width="0.9" />
<line x1="63.50" y1="456.92" x2="66.50" y2="456.92" stroke="#855a1a" stroke-width="0.9" />
<line x1="62.90" y1="452.46" x2="67.10" y2="456.66" stroke="#f3a531" stroke-width="0.9" />
<line x1="62.90" y1="456.66" x2="67.10" y2="452.46" stroke="#f3a531" stroke-width="0.9" />
<line x1="65.00" y1="452.16" x2="65.00" y2="456.96" stroke="#f3a531" stroke-width="0.9" />
<line x1="123.60" y1="473.77" x2="123.60" y2="478.50" stroke="#855a1a" stroke-width="0.8" />
<line x1="122.10" y1="473.77" x2="125.10" y2="473.77" stroke="#855a1a" stroke-width="0.9" />
<line x1="122.10" y1="478.50" x2="125.10" y2="478.50" stroke="#855a1a" stroke-width="0.9" />
<line x1="121.50" y1="474.03" x2="125.70" y2="478.24" stroke="#f3a531" stroke-width="0.9" />
<line x1="121.50" y1="478.24" x2="125.70" y2="474.03" stroke="#f3a531" stroke-width="0.9" />
<line x1="123.60" y1="473.73" x2="123.60" y2="478.54" stroke="#f3a531" stroke-width="0.9" />
<line x1="182.00" y1="507.95" x2="182.00" y2="512.67" stroke="#855a1a" stroke-width="0.8" />
<line x1="180.50" y1="507.95" x2="183.50" y2="507.95" stroke="#855a1a" stroke-width="0.9" />
<line x1="180.50" y1="512.67" x2="183.50" y2="512.67" stroke="#855a1a" stroke-width="0.9" />
<line x1="179.90" y1="508.21" x2="184.10" y2="512.41" stroke="#f3a531" stroke-width="0.9" />
<line x1="179.90" y1="512.41" x2="184.10" y2="508.21" stroke="#f3a531" stroke-width="0.9" />
<line x1="182.00" y1="507.91" x2="182.00" y2="512.71" stroke="#f3a531" stroke-width="0.9" />
<line x1="65.00" y1="429.36" x2="65.00" y2="441.96" stroke="#434343" stroke-width="0.8" />
<line x1="63.50" y1="429.36" x2="66.50" y2="429.36" stroke="#434343" stroke-width="0.9" />
<line x1="63.50" y1="441.96" x2="66.50" y2="441.96" stroke="#434343" stroke-width="0.9" />
<circle cx="65.0" cy="435.6575" r="2.3000000000000003" fill="#7a7a7a"/>
<line x1="123.60" y1="464.17" x2="123.60" y2="472.04" stroke="#434343" stroke-width="0.8" />
<line x1="122.10" y1="464.17" x2="125.10" y2="464.17" stroke="#434343" stroke-width="0.9" />
<line x1="122.10" y1="472.04" x2="125.10" y2="472.04" stroke="#434343" stroke-width="0.9" />
<circle cx="123.6" cy="468.1025" r="2.3000000000000003" fill="#7a7a7a"/>
<line x1="182.00" y1="498.34" x2="182.00" y2="506.22" stroke="#434343" stroke-width="0.8" />
<line x1="180.50" y1="498.34" x2="183.50" y2="498.34" stroke="#434343" stroke-width="0.9" />
<line x1="180.50" y1="506.22" x2="183.50" y2="506.22" stroke="#434343" stroke-width="0.9" />
<circle cx="182.0" cy="502.28" r="2.3000000000000003" fill="#7a7a7a"/>
<text x="230.70" y="421.70" font-size="7.5" text-anchor="middle" font-weight="normal" fill="#000" stroke="#000" stroke-width="0.25" >siRNA</text>
<line x1="211.70" y1="431.70" x2="228.00" y2="431.70" stroke="#111111" stroke-width="0.9" opacity="0.75"/>
<path d="M219.9,429.3 L222.3,431.7 L219.9,434.09999999999997 L217.5,431.7 Z" fill="#111111"/>
<text x="230.70" y="434.40" font-size="7.5" text-anchor="start" font-weight="normal" fill="#000" stroke="#000" stroke-width="0.25" >none</text>
<line x1="211.70" y1="445.20" x2="228.00" y2="445.20" stroke="#e3262f" stroke-width="0.9" opacity="0.75"/>
<rect x="217.90" y="443.20" width="4.00" height="4.00" fill="#e3262f" stroke="none" stroke-width="0.8" />
<text x="230.70" y="447.90" font-size="7.5" text-anchor="start" font-weight="normal" fill="#000" stroke="#000" stroke-width="0.25" >Ctrl</text>
<line x1="211.70" y1="458.70" x2="228.00" y2="458.70" stroke="#2b2f86" stroke-width="0.9" opacity="0.75"/>
<path d="M219.9,456.4 L222.20000000000002,460.7 L217.6,460.7 Z" fill="#2b2f86"/>
<text x="230.70" y="461.40" font-size="7.5" text-anchor="start" font-weight="normal" fill="#000" stroke="#000" stroke-width="0.25" >AP2&#956;2</text>
<line x1="211.70" y1="472.50" x2="228.00" y2="472.50" stroke="#2fa05a" stroke-width="0.9" opacity="0.75"/>
<line x1="217.90" y1="470.50" x2="221.90" y2="474.50" stroke="#2fa05a" stroke-width="0.9" />
<line x1="217.90" y1="474.50" x2="221.90" y2="470.50" stroke="#2fa05a" stroke-width="0.9" />
<text x="230.70" y="475.20" font-size="7.5" text-anchor="start" font-weight="normal" fill="#000" stroke="#000" stroke-width="0.25" >Dyn2</text>
<line x1="211.70" y1="485.90" x2="228.00" y2="485.90" stroke="#f3a531" stroke-width="0.9" opacity="0.75"/>
<line x1="217.90" y1="483.90" x2="221.90" y2="487.90" stroke="#f3a531" stroke-width="0.9" />
<line x1="217.90" y1="487.90" x2="221.90" y2="483.90" stroke="#f3a531" stroke-width="0.9" />
<line x1="219.90" y1="483.60" x2="219.90" y2="488.20" stroke="#f3a531" stroke-width="0.9" />
<text x="230.70" y="488.60" font-size="7.5" text-anchor="start" font-weight="normal" fill="#000" stroke="#000" stroke-width="0.25" >CHC</text>
<line x1="211.70" y1="499.40" x2="228.00" y2="499.40" stroke="#7a7a7a" stroke-width="0.9" opacity="0.75"/>
<circle cx="219.9" cy="499.4" r="2.2" fill="#7a7a7a"/>
<text x="230.70" y="502.10" font-size="7.5" text-anchor="start" font-weight="normal" fill="#000" stroke="#000" stroke-width="0.25" >Flotillin-1</text>
</svg>
</body></html>
